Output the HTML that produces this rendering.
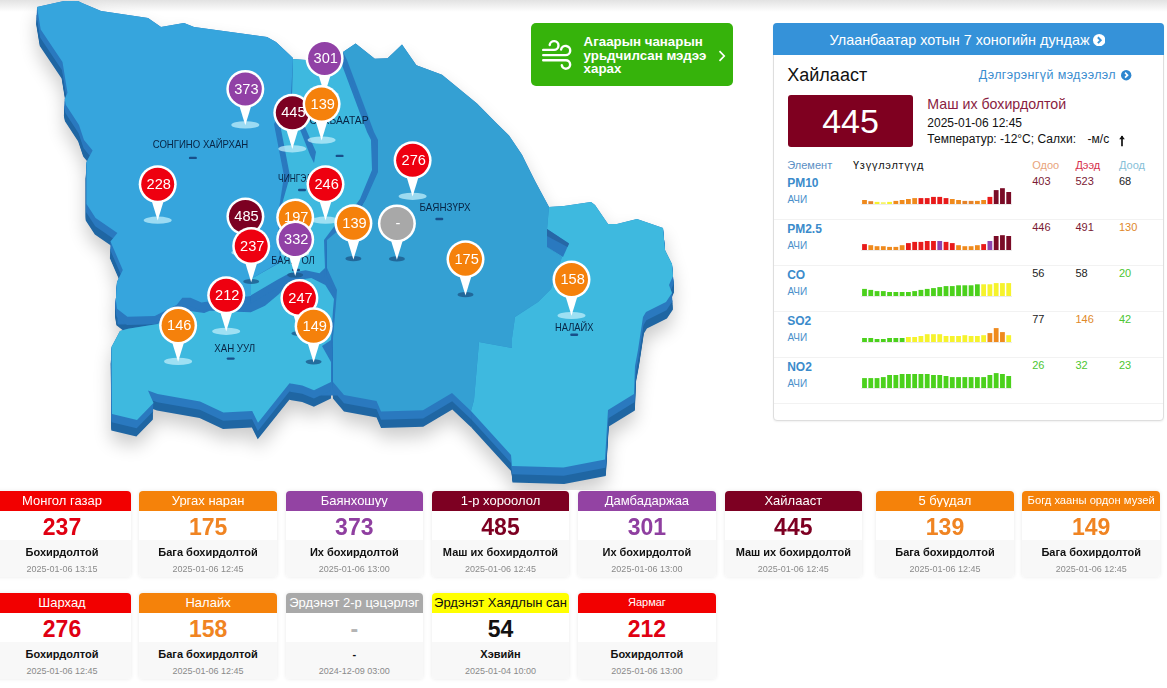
<!DOCTYPE html>
<html><head><meta charset="utf-8"><title>Air quality</title>
<style>
*{box-sizing:border-box;margin:0;padding:0}
html,body{width:1167px;height:688px;overflow:hidden;background:#fff;font-family:"Liberation Sans","DejaVu Sans",sans-serif;}
body{position:relative}
.t{position:absolute;line-height:1;white-space:nowrap}
.abs{position:absolute}
.topsh{position:absolute;left:0;top:0;width:1167px;height:12px;background:linear-gradient(#e2e2e2,rgba(255,255,255,0));}
.map{position:absolute;left:0;top:0}
.pt{font-family:"Liberation Sans","DejaVu Sans",sans-serif;font-size:14.6px;fill:#fff;text-anchor:middle}
.ml{font-family:"Liberation Sans","DejaVu Sans",sans-serif;font-size:10.3px;fill:#082444;text-anchor:middle}
.fc{position:absolute;left:531.3px;top:23.3px;width:201.6px;height:63px;background:#36b30b;border-radius:5px}
.panel{position:absolute;left:773px;top:23px;width:391px;height:398px;border:1px solid #dedede;border-radius:4px;background:#fff;box-shadow:0 1px 2px rgba(0,0,0,0.06)}
.ph{position:absolute;left:773px;top:23px;width:391px;height:32px;background:#3592d9;border-radius:4px 4px 0 0}
.big{position:absolute;left:788px;top:95px;width:125px;height:52px;background:#7f0020;border-radius:3px}
.sep{position:absolute;left:774px;width:389px;height:1px;background:#f2f2f2}
.card{position:absolute;width:137.6px;height:86px;background:#fff;border-radius:4px;box-shadow:0 0 4px rgba(0,0,0,0.09)}
.chd{height:19.5px;border-radius:4px 4px 0 0}
.cbt{position:absolute;left:0;top:49px;width:100%;height:37px;background:#f8f8f8;border-radius:0 0 4px 4px}
</style></head>
<body>
<div class="topsh"></div>
<svg class="map" width="700" height="490" viewBox="0 0 700 490">
<defs>
<filter id="sh" x="-15%" y="-15%" width="130%" height="140%"><feGaussianBlur stdDeviation="9"/></filter>
<clipPath id="clipL"><polygon points="270,64 293,62 306,63 340,61 347,57 400,57 400,480 200,480 200,64"/></clipPath>
</defs>
<g fill="#000" opacity="0.2" filter="url(#sh)" transform="translate(0,10)">
<polygon points="37,7 64,1 78,1 82,3 101,11 148,18 161,27 184,23 194,27 267,37 276,42 293,58 291,95 274,124 284,176 278,215 280,262 251,279 251,296 209.7,301.3 201.5,302.6 190.5,297.8 182.3,297.8 176.8,304.7 154.8,315.9 127.4,316.7 117.1,308.8 115.8,300 117,282 122.8,270 110.5,241.5 117.4,233 95.6,218 86.5,204 86.5,162 92.6,150.5 84,140 79,125 65.8,104.7 64.7,99 67.5,92.7 62.5,62 40.7,29.4" transform="translate(350,0.00) scale(1.0000,1) translate(-350,0)"/>
<polygon points="37,7 64,1 78,1 82,3 101,11 148,18 161,27 184,23 194,27 267,37 276,42 293,58 291,95 274,124 284,176 278,215 280,262 251,279 251,296 209.7,301.3 201.5,302.6 190.5,297.8 182.3,297.8 176.8,304.7 154.8,315.9 127.4,316.7 117.1,308.8 115.8,300 117,282 122.8,270 110.5,241.5 117.4,233 95.6,218 86.5,204 86.5,162 92.6,150.5 84,140 79,125 65.8,104.7 64.7,99 67.5,92.7 62.5,62 40.7,29.4" transform="translate(350,2.75) scale(1.0005,1) translate(-350,0)"/>
<polygon points="37,7 64,1 78,1 82,3 101,11 148,18 161,27 184,23 194,27 267,37 276,42 293,58 291,95 274,124 284,176 278,215 280,262 251,279 251,296 209.7,301.3 201.5,302.6 190.5,297.8 182.3,297.8 176.8,304.7 154.8,315.9 127.4,316.7 117.1,308.8 115.8,300 117,282 122.8,270 110.5,241.5 117.4,233 95.6,218 86.5,204 86.5,162 92.6,150.5 84,140 79,125 65.8,104.7 64.7,99 67.5,92.7 62.5,62 40.7,29.4" transform="translate(350,5.50) scale(1.0010,1) translate(-350,0)"/>
<polygon points="37,7 64,1 78,1 82,3 101,11 148,18 161,27 184,23 194,27 267,37 276,42 293,58 291,95 274,124 284,176 278,215 280,262 251,279 251,296 209.7,301.3 201.5,302.6 190.5,297.8 182.3,297.8 176.8,304.7 154.8,315.9 127.4,316.7 117.1,308.8 115.8,300 117,282 122.8,270 110.5,241.5 117.4,233 95.6,218 86.5,204 86.5,162 92.6,150.5 84,140 79,125 65.8,104.7 64.7,99 67.5,92.7 62.5,62 40.7,29.4" transform="translate(350,8.25) scale(1.0015,1) translate(-350,0)"/>
<polygon points="37,7 64,1 78,1 82,3 101,11 148,18 161,27 184,23 194,27 267,37 276,42 293,58 291,95 274,124 284,176 278,215 280,262 251,279 251,296 209.7,301.3 201.5,302.6 190.5,297.8 182.3,297.8 176.8,304.7 154.8,315.9 127.4,316.7 117.1,308.8 115.8,300 117,282 122.8,270 110.5,241.5 117.4,233 95.6,218 86.5,204 86.5,162 92.6,150.5 84,140 79,125 65.8,104.7 64.7,99 67.5,92.7 62.5,62 40.7,29.4" transform="translate(350,11.00) scale(1.0020,1) translate(-350,0)"/>
<polygon points="37,7 64,1 78,1 82,3 101,11 148,18 161,27 184,23 194,27 267,37 276,42 293,58 291,95 274,124 284,176 278,215 280,262 251,279 251,296 209.7,301.3 201.5,302.6 190.5,297.8 182.3,297.8 176.8,304.7 154.8,315.9 127.4,316.7 117.1,308.8 115.8,300 117,282 122.8,270 110.5,241.5 117.4,233 95.6,218 86.5,204 86.5,162 92.6,150.5 84,140 79,125 65.8,104.7 64.7,99 67.5,92.7 62.5,62 40.7,29.4" transform="translate(350,13.75) scale(1.0025,1) translate(-350,0)"/>
<polygon points="37,7 64,1 78,1 82,3 101,11 148,18 161,27 184,23 194,27 267,37 276,42 293,58 291,95 274,124 284,176 278,215 280,262 251,279 251,296 209.7,301.3 201.5,302.6 190.5,297.8 182.3,297.8 176.8,304.7 154.8,315.9 127.4,316.7 117.1,308.8 115.8,300 117,282 122.8,270 110.5,241.5 117.4,233 95.6,218 86.5,204 86.5,162 92.6,150.5 84,140 79,125 65.8,104.7 64.7,99 67.5,92.7 62.5,62 40.7,29.4" transform="translate(350,16.50) scale(1.0030,1) translate(-350,0)"/>
<polygon points="293,59 306,60 339,57 367,132 371,140 372,170 360,199 352,210 336,224 324,240 325,268 319.5,273.3 305.6,270.3 289.3,273.3 276.5,280.2 251,295.3 251,279 281,262 279,215 290,176 280,124 292,96" transform="translate(350,0.00) scale(1.0000,1) translate(-350,0)"/>
<polygon points="293,59 306,60 339,57 367,132 371,140 372,170 360,199 352,210 336,224 324,240 325,268 319.5,273.3 305.6,270.3 289.3,273.3 276.5,280.2 251,295.3 251,279 281,262 279,215 290,176 280,124 292,96" transform="translate(350,2.75) scale(1.0005,1) translate(-350,0)"/>
<polygon points="293,59 306,60 339,57 367,132 371,140 372,170 360,199 352,210 336,224 324,240 325,268 319.5,273.3 305.6,270.3 289.3,273.3 276.5,280.2 251,295.3 251,279 281,262 279,215 290,176 280,124 292,96" transform="translate(350,5.50) scale(1.0010,1) translate(-350,0)"/>
<polygon points="293,59 306,60 339,57 367,132 371,140 372,170 360,199 352,210 336,224 324,240 325,268 319.5,273.3 305.6,270.3 289.3,273.3 276.5,280.2 251,295.3 251,279 281,262 279,215 290,176 280,124 292,96" transform="translate(350,8.25) scale(1.0015,1) translate(-350,0)"/>
<polygon points="293,59 306,60 339,57 367,132 371,140 372,170 360,199 352,210 336,224 324,240 325,268 319.5,273.3 305.6,270.3 289.3,273.3 276.5,280.2 251,295.3 251,279 281,262 279,215 290,176 280,124 292,96" transform="translate(350,11.00) scale(1.0020,1) translate(-350,0)"/>
<polygon points="293,59 306,60 339,57 367,132 371,140 372,170 360,199 352,210 336,224 324,240 325,268 319.5,273.3 305.6,270.3 289.3,273.3 276.5,280.2 251,295.3 251,279 281,262 279,215 290,176 280,124 292,96" transform="translate(350,13.75) scale(1.0025,1) translate(-350,0)"/>
<polygon points="293,59 306,60 339,57 367,132 371,140 372,170 360,199 352,210 336,224 324,240 325,268 319.5,273.3 305.6,270.3 289.3,273.3 276.5,280.2 251,295.3 251,279 281,262 279,215 290,176 280,124 292,96" transform="translate(350,16.50) scale(1.0030,1) translate(-350,0)"/>
<polygon points="111.5,347 120,331 128,328.8 157.6,323.9 176.8,312.9 185,310.2 204.2,312.9 209.7,310.8 250.8,312.2 265,305.8 278.8,294.2 290.5,281 311.4,278 325.3,285 334,299 333,310 331,340 322,346 331,362 331,382 314,390.2 302.3,385.6 289.5,383.3 258,422.8 252.2,411.1 223.4,412.5 200,401.5 157.6,394 148,390.6 153.5,403 137,420 112,414" transform="translate(350,0.00) scale(1.0000,1) translate(-350,0)"/>
<polygon points="111.5,347 120,331 128,328.8 157.6,323.9 176.8,312.9 185,310.2 204.2,312.9 209.7,310.8 250.8,312.2 265,305.8 278.8,294.2 290.5,281 311.4,278 325.3,285 334,299 333,310 331,340 322,346 331,362 331,382 314,390.2 302.3,385.6 289.5,383.3 258,422.8 252.2,411.1 223.4,412.5 200,401.5 157.6,394 148,390.6 153.5,403 137,420 112,414" transform="translate(350,2.75) scale(1.0005,1) translate(-350,0)"/>
<polygon points="111.5,347 120,331 128,328.8 157.6,323.9 176.8,312.9 185,310.2 204.2,312.9 209.7,310.8 250.8,312.2 265,305.8 278.8,294.2 290.5,281 311.4,278 325.3,285 334,299 333,310 331,340 322,346 331,362 331,382 314,390.2 302.3,385.6 289.5,383.3 258,422.8 252.2,411.1 223.4,412.5 200,401.5 157.6,394 148,390.6 153.5,403 137,420 112,414" transform="translate(350,5.50) scale(1.0010,1) translate(-350,0)"/>
<polygon points="111.5,347 120,331 128,328.8 157.6,323.9 176.8,312.9 185,310.2 204.2,312.9 209.7,310.8 250.8,312.2 265,305.8 278.8,294.2 290.5,281 311.4,278 325.3,285 334,299 333,310 331,340 322,346 331,362 331,382 314,390.2 302.3,385.6 289.5,383.3 258,422.8 252.2,411.1 223.4,412.5 200,401.5 157.6,394 148,390.6 153.5,403 137,420 112,414" transform="translate(350,8.25) scale(1.0015,1) translate(-350,0)"/>
<polygon points="111.5,347 120,331 128,328.8 157.6,323.9 176.8,312.9 185,310.2 204.2,312.9 209.7,310.8 250.8,312.2 265,305.8 278.8,294.2 290.5,281 311.4,278 325.3,285 334,299 333,310 331,340 322,346 331,362 331,382 314,390.2 302.3,385.6 289.5,383.3 258,422.8 252.2,411.1 223.4,412.5 200,401.5 157.6,394 148,390.6 153.5,403 137,420 112,414" transform="translate(350,11.00) scale(1.0020,1) translate(-350,0)"/>
<polygon points="111.5,347 120,331 128,328.8 157.6,323.9 176.8,312.9 185,310.2 204.2,312.9 209.7,310.8 250.8,312.2 265,305.8 278.8,294.2 290.5,281 311.4,278 325.3,285 334,299 333,310 331,340 322,346 331,362 331,382 314,390.2 302.3,385.6 289.5,383.3 258,422.8 252.2,411.1 223.4,412.5 200,401.5 157.6,394 148,390.6 153.5,403 137,420 112,414" transform="translate(350,13.75) scale(1.0025,1) translate(-350,0)"/>
<polygon points="111.5,347 120,331 128,328.8 157.6,323.9 176.8,312.9 185,310.2 204.2,312.9 209.7,310.8 250.8,312.2 265,305.8 278.8,294.2 290.5,281 311.4,278 325.3,285 334,299 333,310 331,340 322,346 331,362 331,382 314,390.2 302.3,385.6 289.5,383.3 258,422.8 252.2,411.1 223.4,412.5 200,401.5 157.6,394 148,390.6 153.5,403 137,420 112,414" transform="translate(350,16.50) scale(1.0030,1) translate(-350,0)"/>
<polygon points="343,52 355.6,43.4 374.8,58.8 387.6,58.2 402,44.4 416.4,65.2 442,74.8 477,103.6 496,122.8 509,135.6 522,154.8 525,161 535,181 549,207 547,230 547,247 562,257 551,289 538,302 515,317 512,338 512,348 479,342 474,400 471,411 452,393 423,410.2 381,411.4 376.5,401 344,395 333,382 333,338 336,303 337,290 327,268 327,240 340,229 356,216 366,199 378,172 378,140 374,132 347,60" transform="translate(350,0.00) scale(1.0000,1) translate(-350,0)"/>
<polygon points="343,52 355.6,43.4 374.8,58.8 387.6,58.2 402,44.4 416.4,65.2 442,74.8 477,103.6 496,122.8 509,135.6 522,154.8 525,161 535,181 549,207 547,230 547,247 562,257 551,289 538,302 515,317 512,338 512,348 479,342 474,400 471,411 452,393 423,410.2 381,411.4 376.5,401 344,395 333,382 333,338 336,303 337,290 327,268 327,240 340,229 356,216 366,199 378,172 378,140 374,132 347,60" transform="translate(350,2.75) scale(1.0005,1) translate(-350,0)"/>
<polygon points="343,52 355.6,43.4 374.8,58.8 387.6,58.2 402,44.4 416.4,65.2 442,74.8 477,103.6 496,122.8 509,135.6 522,154.8 525,161 535,181 549,207 547,230 547,247 562,257 551,289 538,302 515,317 512,338 512,348 479,342 474,400 471,411 452,393 423,410.2 381,411.4 376.5,401 344,395 333,382 333,338 336,303 337,290 327,268 327,240 340,229 356,216 366,199 378,172 378,140 374,132 347,60" transform="translate(350,5.50) scale(1.0010,1) translate(-350,0)"/>
<polygon points="343,52 355.6,43.4 374.8,58.8 387.6,58.2 402,44.4 416.4,65.2 442,74.8 477,103.6 496,122.8 509,135.6 522,154.8 525,161 535,181 549,207 547,230 547,247 562,257 551,289 538,302 515,317 512,338 512,348 479,342 474,400 471,411 452,393 423,410.2 381,411.4 376.5,401 344,395 333,382 333,338 336,303 337,290 327,268 327,240 340,229 356,216 366,199 378,172 378,140 374,132 347,60" transform="translate(350,8.25) scale(1.0015,1) translate(-350,0)"/>
<polygon points="343,52 355.6,43.4 374.8,58.8 387.6,58.2 402,44.4 416.4,65.2 442,74.8 477,103.6 496,122.8 509,135.6 522,154.8 525,161 535,181 549,207 547,230 547,247 562,257 551,289 538,302 515,317 512,338 512,348 479,342 474,400 471,411 452,393 423,410.2 381,411.4 376.5,401 344,395 333,382 333,338 336,303 337,290 327,268 327,240 340,229 356,216 366,199 378,172 378,140 374,132 347,60" transform="translate(350,11.00) scale(1.0020,1) translate(-350,0)"/>
<polygon points="343,52 355.6,43.4 374.8,58.8 387.6,58.2 402,44.4 416.4,65.2 442,74.8 477,103.6 496,122.8 509,135.6 522,154.8 525,161 535,181 549,207 547,230 547,247 562,257 551,289 538,302 515,317 512,338 512,348 479,342 474,400 471,411 452,393 423,410.2 381,411.4 376.5,401 344,395 333,382 333,338 336,303 337,290 327,268 327,240 340,229 356,216 366,199 378,172 378,140 374,132 347,60" transform="translate(350,13.75) scale(1.0025,1) translate(-350,0)"/>
<polygon points="343,52 355.6,43.4 374.8,58.8 387.6,58.2 402,44.4 416.4,65.2 442,74.8 477,103.6 496,122.8 509,135.6 522,154.8 525,161 535,181 549,207 547,230 547,247 562,257 551,289 538,302 515,317 512,338 512,348 479,342 474,400 471,411 452,393 423,410.2 381,411.4 376.5,401 344,395 333,382 333,338 336,303 337,290 327,268 327,240 340,229 356,216 366,199 378,172 378,140 374,132 347,60" transform="translate(350,16.50) scale(1.0030,1) translate(-350,0)"/>
<polygon points="549,207 564,206 591,202 595,205 608,224 617,224 637,219 663,228 665,250 672,264 673,276 669,285 672,293 666,302 646,312 643,317 638,350 635,366 634,394 608,410 605,459.5 563.5,467.5 512,466 511,455 471,411 474,400 479,342 512,348 512,338 515,317 538,302 551,289 562,257 547,247 547,230" transform="translate(350,0.00) scale(1.0000,1) translate(-350,0)"/>
<polygon points="549,207 564,206 591,202 595,205 608,224 617,224 637,219 663,228 665,250 672,264 673,276 669,285 672,293 666,302 646,312 643,317 638,350 635,366 634,394 608,410 605,459.5 563.5,467.5 512,466 511,455 471,411 474,400 479,342 512,348 512,338 515,317 538,302 551,289 562,257 547,247 547,230" transform="translate(350,2.75) scale(1.0005,1) translate(-350,0)"/>
<polygon points="549,207 564,206 591,202 595,205 608,224 617,224 637,219 663,228 665,250 672,264 673,276 669,285 672,293 666,302 646,312 643,317 638,350 635,366 634,394 608,410 605,459.5 563.5,467.5 512,466 511,455 471,411 474,400 479,342 512,348 512,338 515,317 538,302 551,289 562,257 547,247 547,230" transform="translate(350,5.50) scale(1.0010,1) translate(-350,0)"/>
<polygon points="549,207 564,206 591,202 595,205 608,224 617,224 637,219 663,228 665,250 672,264 673,276 669,285 672,293 666,302 646,312 643,317 638,350 635,366 634,394 608,410 605,459.5 563.5,467.5 512,466 511,455 471,411 474,400 479,342 512,348 512,338 515,317 538,302 551,289 562,257 547,247 547,230" transform="translate(350,8.25) scale(1.0015,1) translate(-350,0)"/>
<polygon points="549,207 564,206 591,202 595,205 608,224 617,224 637,219 663,228 665,250 672,264 673,276 669,285 672,293 666,302 646,312 643,317 638,350 635,366 634,394 608,410 605,459.5 563.5,467.5 512,466 511,455 471,411 474,400 479,342 512,348 512,338 515,317 538,302 551,289 562,257 547,247 547,230" transform="translate(350,11.00) scale(1.0020,1) translate(-350,0)"/>
<polygon points="549,207 564,206 591,202 595,205 608,224 617,224 637,219 663,228 665,250 672,264 673,276 669,285 672,293 666,302 646,312 643,317 638,350 635,366 634,394 608,410 605,459.5 563.5,467.5 512,466 511,455 471,411 474,400 479,342 512,348 512,338 515,317 538,302 551,289 562,257 547,247 547,230" transform="translate(350,13.75) scale(1.0025,1) translate(-350,0)"/>
<polygon points="549,207 564,206 591,202 595,205 608,224 617,224 637,219 663,228 665,250 672,264 673,276 669,285 672,293 666,302 646,312 643,317 638,350 635,366 634,394 608,410 605,459.5 563.5,467.5 512,466 511,455 471,411 474,400 479,342 512,348 512,338 515,317 538,302 551,289 562,257 547,247 547,230" transform="translate(350,16.50) scale(1.0030,1) translate(-350,0)"/>
</g>
<g fill="#1f66a3">
<polygon points="37,7 64,1 78,1 82,3 101,11 148,18 161,27 184,23 194,27 267,37 276,42 293,58 291,95 274,124 284,176 278,215 280,262 251,279 251,296 209.7,301.3 201.5,302.6 190.5,297.8 182.3,297.8 176.8,304.7 154.8,315.9 127.4,316.7 117.1,308.8 115.8,300 117,282 122.8,270 110.5,241.5 117.4,233 95.6,218 86.5,204 86.5,162 92.6,150.5 84,140 79,125 65.8,104.7 64.7,99 67.5,92.7 62.5,62 40.7,29.4" transform="translate(350,8.25) scale(1.0015,1) translate(-350,0)"/>
<polygon points="37,7 64,1 78,1 82,3 101,11 148,18 161,27 184,23 194,27 267,37 276,42 293,58 291,95 274,124 284,176 278,215 280,262 251,279 251,296 209.7,301.3 201.5,302.6 190.5,297.8 182.3,297.8 176.8,304.7 154.8,315.9 127.4,316.7 117.1,308.8 115.8,300 117,282 122.8,270 110.5,241.5 117.4,233 95.6,218 86.5,204 86.5,162 92.6,150.5 84,140 79,125 65.8,104.7 64.7,99 67.5,92.7 62.5,62 40.7,29.4" transform="translate(350,9.28) scale(1.0017,1) translate(-350,0)"/>
<polygon points="37,7 64,1 78,1 82,3 101,11 148,18 161,27 184,23 194,27 267,37 276,42 293,58 291,95 274,124 284,176 278,215 280,262 251,279 251,296 209.7,301.3 201.5,302.6 190.5,297.8 182.3,297.8 176.8,304.7 154.8,315.9 127.4,316.7 117.1,308.8 115.8,300 117,282 122.8,270 110.5,241.5 117.4,233 95.6,218 86.5,204 86.5,162 92.6,150.5 84,140 79,125 65.8,104.7 64.7,99 67.5,92.7 62.5,62 40.7,29.4" transform="translate(350,10.31) scale(1.0019,1) translate(-350,0)"/>
<polygon points="37,7 64,1 78,1 82,3 101,11 148,18 161,27 184,23 194,27 267,37 276,42 293,58 291,95 274,124 284,176 278,215 280,262 251,279 251,296 209.7,301.3 201.5,302.6 190.5,297.8 182.3,297.8 176.8,304.7 154.8,315.9 127.4,316.7 117.1,308.8 115.8,300 117,282 122.8,270 110.5,241.5 117.4,233 95.6,218 86.5,204 86.5,162 92.6,150.5 84,140 79,125 65.8,104.7 64.7,99 67.5,92.7 62.5,62 40.7,29.4" transform="translate(350,11.34) scale(1.0021,1) translate(-350,0)"/>
<polygon points="37,7 64,1 78,1 82,3 101,11 148,18 161,27 184,23 194,27 267,37 276,42 293,58 291,95 274,124 284,176 278,215 280,262 251,279 251,296 209.7,301.3 201.5,302.6 190.5,297.8 182.3,297.8 176.8,304.7 154.8,315.9 127.4,316.7 117.1,308.8 115.8,300 117,282 122.8,270 110.5,241.5 117.4,233 95.6,218 86.5,204 86.5,162 92.6,150.5 84,140 79,125 65.8,104.7 64.7,99 67.5,92.7 62.5,62 40.7,29.4" transform="translate(350,12.38) scale(1.0023,1) translate(-350,0)"/>
<polygon points="37,7 64,1 78,1 82,3 101,11 148,18 161,27 184,23 194,27 267,37 276,42 293,58 291,95 274,124 284,176 278,215 280,262 251,279 251,296 209.7,301.3 201.5,302.6 190.5,297.8 182.3,297.8 176.8,304.7 154.8,315.9 127.4,316.7 117.1,308.8 115.8,300 117,282 122.8,270 110.5,241.5 117.4,233 95.6,218 86.5,204 86.5,162 92.6,150.5 84,140 79,125 65.8,104.7 64.7,99 67.5,92.7 62.5,62 40.7,29.4" transform="translate(350,13.41) scale(1.0024,1) translate(-350,0)"/>
<polygon points="37,7 64,1 78,1 82,3 101,11 148,18 161,27 184,23 194,27 267,37 276,42 293,58 291,95 274,124 284,176 278,215 280,262 251,279 251,296 209.7,301.3 201.5,302.6 190.5,297.8 182.3,297.8 176.8,304.7 154.8,315.9 127.4,316.7 117.1,308.8 115.8,300 117,282 122.8,270 110.5,241.5 117.4,233 95.6,218 86.5,204 86.5,162 92.6,150.5 84,140 79,125 65.8,104.7 64.7,99 67.5,92.7 62.5,62 40.7,29.4" transform="translate(350,14.44) scale(1.0026,1) translate(-350,0)"/>
<polygon points="37,7 64,1 78,1 82,3 101,11 148,18 161,27 184,23 194,27 267,37 276,42 293,58 291,95 274,124 284,176 278,215 280,262 251,279 251,296 209.7,301.3 201.5,302.6 190.5,297.8 182.3,297.8 176.8,304.7 154.8,315.9 127.4,316.7 117.1,308.8 115.8,300 117,282 122.8,270 110.5,241.5 117.4,233 95.6,218 86.5,204 86.5,162 92.6,150.5 84,140 79,125 65.8,104.7 64.7,99 67.5,92.7 62.5,62 40.7,29.4" transform="translate(350,15.47) scale(1.0028,1) translate(-350,0)"/>
<polygon points="37,7 64,1 78,1 82,3 101,11 148,18 161,27 184,23 194,27 267,37 276,42 293,58 291,95 274,124 284,176 278,215 280,262 251,279 251,296 209.7,301.3 201.5,302.6 190.5,297.8 182.3,297.8 176.8,304.7 154.8,315.9 127.4,316.7 117.1,308.8 115.8,300 117,282 122.8,270 110.5,241.5 117.4,233 95.6,218 86.5,204 86.5,162 92.6,150.5 84,140 79,125 65.8,104.7 64.7,99 67.5,92.7 62.5,62 40.7,29.4" transform="translate(350,16.50) scale(1.0030,1) translate(-350,0)"/>
<polygon points="293,59 306,60 339,57 367,132 371,140 372,170 360,199 352,210 336,224 324,240 325,268 319.5,273.3 305.6,270.3 289.3,273.3 276.5,280.2 251,295.3 251,279 281,262 279,215 290,176 280,124 292,96" transform="translate(350,8.25) scale(1.0015,1) translate(-350,0)"/>
<polygon points="293,59 306,60 339,57 367,132 371,140 372,170 360,199 352,210 336,224 324,240 325,268 319.5,273.3 305.6,270.3 289.3,273.3 276.5,280.2 251,295.3 251,279 281,262 279,215 290,176 280,124 292,96" transform="translate(350,9.28) scale(1.0017,1) translate(-350,0)"/>
<polygon points="293,59 306,60 339,57 367,132 371,140 372,170 360,199 352,210 336,224 324,240 325,268 319.5,273.3 305.6,270.3 289.3,273.3 276.5,280.2 251,295.3 251,279 281,262 279,215 290,176 280,124 292,96" transform="translate(350,10.31) scale(1.0019,1) translate(-350,0)"/>
<polygon points="293,59 306,60 339,57 367,132 371,140 372,170 360,199 352,210 336,224 324,240 325,268 319.5,273.3 305.6,270.3 289.3,273.3 276.5,280.2 251,295.3 251,279 281,262 279,215 290,176 280,124 292,96" transform="translate(350,11.34) scale(1.0021,1) translate(-350,0)"/>
<polygon points="293,59 306,60 339,57 367,132 371,140 372,170 360,199 352,210 336,224 324,240 325,268 319.5,273.3 305.6,270.3 289.3,273.3 276.5,280.2 251,295.3 251,279 281,262 279,215 290,176 280,124 292,96" transform="translate(350,12.38) scale(1.0023,1) translate(-350,0)"/>
<polygon points="293,59 306,60 339,57 367,132 371,140 372,170 360,199 352,210 336,224 324,240 325,268 319.5,273.3 305.6,270.3 289.3,273.3 276.5,280.2 251,295.3 251,279 281,262 279,215 290,176 280,124 292,96" transform="translate(350,13.41) scale(1.0024,1) translate(-350,0)"/>
<polygon points="293,59 306,60 339,57 367,132 371,140 372,170 360,199 352,210 336,224 324,240 325,268 319.5,273.3 305.6,270.3 289.3,273.3 276.5,280.2 251,295.3 251,279 281,262 279,215 290,176 280,124 292,96" transform="translate(350,14.44) scale(1.0026,1) translate(-350,0)"/>
<polygon points="293,59 306,60 339,57 367,132 371,140 372,170 360,199 352,210 336,224 324,240 325,268 319.5,273.3 305.6,270.3 289.3,273.3 276.5,280.2 251,295.3 251,279 281,262 279,215 290,176 280,124 292,96" transform="translate(350,15.47) scale(1.0028,1) translate(-350,0)"/>
<polygon points="293,59 306,60 339,57 367,132 371,140 372,170 360,199 352,210 336,224 324,240 325,268 319.5,273.3 305.6,270.3 289.3,273.3 276.5,280.2 251,295.3 251,279 281,262 279,215 290,176 280,124 292,96" transform="translate(350,16.50) scale(1.0030,1) translate(-350,0)"/>
<polygon points="111.5,347 120,331 128,328.8 157.6,323.9 176.8,312.9 185,310.2 204.2,312.9 209.7,310.8 250.8,312.2 265,305.8 278.8,294.2 290.5,281 311.4,278 325.3,285 334,299 333,310 331,340 322,346 331,362 331,382 314,390.2 302.3,385.6 289.5,383.3 258,422.8 252.2,411.1 223.4,412.5 200,401.5 157.6,394 148,390.6 153.5,403 137,420 112,414" transform="translate(350,8.25) scale(1.0015,1) translate(-350,0)"/>
<polygon points="111.5,347 120,331 128,328.8 157.6,323.9 176.8,312.9 185,310.2 204.2,312.9 209.7,310.8 250.8,312.2 265,305.8 278.8,294.2 290.5,281 311.4,278 325.3,285 334,299 333,310 331,340 322,346 331,362 331,382 314,390.2 302.3,385.6 289.5,383.3 258,422.8 252.2,411.1 223.4,412.5 200,401.5 157.6,394 148,390.6 153.5,403 137,420 112,414" transform="translate(350,9.28) scale(1.0017,1) translate(-350,0)"/>
<polygon points="111.5,347 120,331 128,328.8 157.6,323.9 176.8,312.9 185,310.2 204.2,312.9 209.7,310.8 250.8,312.2 265,305.8 278.8,294.2 290.5,281 311.4,278 325.3,285 334,299 333,310 331,340 322,346 331,362 331,382 314,390.2 302.3,385.6 289.5,383.3 258,422.8 252.2,411.1 223.4,412.5 200,401.5 157.6,394 148,390.6 153.5,403 137,420 112,414" transform="translate(350,10.31) scale(1.0019,1) translate(-350,0)"/>
<polygon points="111.5,347 120,331 128,328.8 157.6,323.9 176.8,312.9 185,310.2 204.2,312.9 209.7,310.8 250.8,312.2 265,305.8 278.8,294.2 290.5,281 311.4,278 325.3,285 334,299 333,310 331,340 322,346 331,362 331,382 314,390.2 302.3,385.6 289.5,383.3 258,422.8 252.2,411.1 223.4,412.5 200,401.5 157.6,394 148,390.6 153.5,403 137,420 112,414" transform="translate(350,11.34) scale(1.0021,1) translate(-350,0)"/>
<polygon points="111.5,347 120,331 128,328.8 157.6,323.9 176.8,312.9 185,310.2 204.2,312.9 209.7,310.8 250.8,312.2 265,305.8 278.8,294.2 290.5,281 311.4,278 325.3,285 334,299 333,310 331,340 322,346 331,362 331,382 314,390.2 302.3,385.6 289.5,383.3 258,422.8 252.2,411.1 223.4,412.5 200,401.5 157.6,394 148,390.6 153.5,403 137,420 112,414" transform="translate(350,12.38) scale(1.0023,1) translate(-350,0)"/>
<polygon points="111.5,347 120,331 128,328.8 157.6,323.9 176.8,312.9 185,310.2 204.2,312.9 209.7,310.8 250.8,312.2 265,305.8 278.8,294.2 290.5,281 311.4,278 325.3,285 334,299 333,310 331,340 322,346 331,362 331,382 314,390.2 302.3,385.6 289.5,383.3 258,422.8 252.2,411.1 223.4,412.5 200,401.5 157.6,394 148,390.6 153.5,403 137,420 112,414" transform="translate(350,13.41) scale(1.0024,1) translate(-350,0)"/>
<polygon points="111.5,347 120,331 128,328.8 157.6,323.9 176.8,312.9 185,310.2 204.2,312.9 209.7,310.8 250.8,312.2 265,305.8 278.8,294.2 290.5,281 311.4,278 325.3,285 334,299 333,310 331,340 322,346 331,362 331,382 314,390.2 302.3,385.6 289.5,383.3 258,422.8 252.2,411.1 223.4,412.5 200,401.5 157.6,394 148,390.6 153.5,403 137,420 112,414" transform="translate(350,14.44) scale(1.0026,1) translate(-350,0)"/>
<polygon points="111.5,347 120,331 128,328.8 157.6,323.9 176.8,312.9 185,310.2 204.2,312.9 209.7,310.8 250.8,312.2 265,305.8 278.8,294.2 290.5,281 311.4,278 325.3,285 334,299 333,310 331,340 322,346 331,362 331,382 314,390.2 302.3,385.6 289.5,383.3 258,422.8 252.2,411.1 223.4,412.5 200,401.5 157.6,394 148,390.6 153.5,403 137,420 112,414" transform="translate(350,15.47) scale(1.0028,1) translate(-350,0)"/>
<polygon points="111.5,347 120,331 128,328.8 157.6,323.9 176.8,312.9 185,310.2 204.2,312.9 209.7,310.8 250.8,312.2 265,305.8 278.8,294.2 290.5,281 311.4,278 325.3,285 334,299 333,310 331,340 322,346 331,362 331,382 314,390.2 302.3,385.6 289.5,383.3 258,422.8 252.2,411.1 223.4,412.5 200,401.5 157.6,394 148,390.6 153.5,403 137,420 112,414" transform="translate(350,16.50) scale(1.0030,1) translate(-350,0)"/>
<polygon points="343,52 355.6,43.4 374.8,58.8 387.6,58.2 402,44.4 416.4,65.2 442,74.8 477,103.6 496,122.8 509,135.6 522,154.8 525,161 535,181 549,207 547,230 547,247 562,257 551,289 538,302 515,317 512,338 512,348 479,342 474,400 471,411 452,393 423,410.2 381,411.4 376.5,401 344,395 333,382 333,338 336,303 337,290 327,268 327,240 340,229 356,216 366,199 378,172 378,140 374,132 347,60" transform="translate(350,8.25) scale(1.0015,1) translate(-350,0)"/>
<polygon points="343,52 355.6,43.4 374.8,58.8 387.6,58.2 402,44.4 416.4,65.2 442,74.8 477,103.6 496,122.8 509,135.6 522,154.8 525,161 535,181 549,207 547,230 547,247 562,257 551,289 538,302 515,317 512,338 512,348 479,342 474,400 471,411 452,393 423,410.2 381,411.4 376.5,401 344,395 333,382 333,338 336,303 337,290 327,268 327,240 340,229 356,216 366,199 378,172 378,140 374,132 347,60" transform="translate(350,9.28) scale(1.0017,1) translate(-350,0)"/>
<polygon points="343,52 355.6,43.4 374.8,58.8 387.6,58.2 402,44.4 416.4,65.2 442,74.8 477,103.6 496,122.8 509,135.6 522,154.8 525,161 535,181 549,207 547,230 547,247 562,257 551,289 538,302 515,317 512,338 512,348 479,342 474,400 471,411 452,393 423,410.2 381,411.4 376.5,401 344,395 333,382 333,338 336,303 337,290 327,268 327,240 340,229 356,216 366,199 378,172 378,140 374,132 347,60" transform="translate(350,10.31) scale(1.0019,1) translate(-350,0)"/>
<polygon points="343,52 355.6,43.4 374.8,58.8 387.6,58.2 402,44.4 416.4,65.2 442,74.8 477,103.6 496,122.8 509,135.6 522,154.8 525,161 535,181 549,207 547,230 547,247 562,257 551,289 538,302 515,317 512,338 512,348 479,342 474,400 471,411 452,393 423,410.2 381,411.4 376.5,401 344,395 333,382 333,338 336,303 337,290 327,268 327,240 340,229 356,216 366,199 378,172 378,140 374,132 347,60" transform="translate(350,11.34) scale(1.0021,1) translate(-350,0)"/>
<polygon points="343,52 355.6,43.4 374.8,58.8 387.6,58.2 402,44.4 416.4,65.2 442,74.8 477,103.6 496,122.8 509,135.6 522,154.8 525,161 535,181 549,207 547,230 547,247 562,257 551,289 538,302 515,317 512,338 512,348 479,342 474,400 471,411 452,393 423,410.2 381,411.4 376.5,401 344,395 333,382 333,338 336,303 337,290 327,268 327,240 340,229 356,216 366,199 378,172 378,140 374,132 347,60" transform="translate(350,12.38) scale(1.0023,1) translate(-350,0)"/>
<polygon points="343,52 355.6,43.4 374.8,58.8 387.6,58.2 402,44.4 416.4,65.2 442,74.8 477,103.6 496,122.8 509,135.6 522,154.8 525,161 535,181 549,207 547,230 547,247 562,257 551,289 538,302 515,317 512,338 512,348 479,342 474,400 471,411 452,393 423,410.2 381,411.4 376.5,401 344,395 333,382 333,338 336,303 337,290 327,268 327,240 340,229 356,216 366,199 378,172 378,140 374,132 347,60" transform="translate(350,13.41) scale(1.0024,1) translate(-350,0)"/>
<polygon points="343,52 355.6,43.4 374.8,58.8 387.6,58.2 402,44.4 416.4,65.2 442,74.8 477,103.6 496,122.8 509,135.6 522,154.8 525,161 535,181 549,207 547,230 547,247 562,257 551,289 538,302 515,317 512,338 512,348 479,342 474,400 471,411 452,393 423,410.2 381,411.4 376.5,401 344,395 333,382 333,338 336,303 337,290 327,268 327,240 340,229 356,216 366,199 378,172 378,140 374,132 347,60" transform="translate(350,14.44) scale(1.0026,1) translate(-350,0)"/>
<polygon points="343,52 355.6,43.4 374.8,58.8 387.6,58.2 402,44.4 416.4,65.2 442,74.8 477,103.6 496,122.8 509,135.6 522,154.8 525,161 535,181 549,207 547,230 547,247 562,257 551,289 538,302 515,317 512,338 512,348 479,342 474,400 471,411 452,393 423,410.2 381,411.4 376.5,401 344,395 333,382 333,338 336,303 337,290 327,268 327,240 340,229 356,216 366,199 378,172 378,140 374,132 347,60" transform="translate(350,15.47) scale(1.0028,1) translate(-350,0)"/>
<polygon points="343,52 355.6,43.4 374.8,58.8 387.6,58.2 402,44.4 416.4,65.2 442,74.8 477,103.6 496,122.8 509,135.6 522,154.8 525,161 535,181 549,207 547,230 547,247 562,257 551,289 538,302 515,317 512,338 512,348 479,342 474,400 471,411 452,393 423,410.2 381,411.4 376.5,401 344,395 333,382 333,338 336,303 337,290 327,268 327,240 340,229 356,216 366,199 378,172 378,140 374,132 347,60" transform="translate(350,16.50) scale(1.0030,1) translate(-350,0)"/>
<polygon points="549,207 564,206 591,202 595,205 608,224 617,224 637,219 663,228 665,250 672,264 673,276 669,285 672,293 666,302 646,312 643,317 638,350 635,366 634,394 608,410 605,459.5 563.5,467.5 512,466 511,455 471,411 474,400 479,342 512,348 512,338 515,317 538,302 551,289 562,257 547,247 547,230" transform="translate(350,8.25) scale(1.0015,1) translate(-350,0)"/>
<polygon points="549,207 564,206 591,202 595,205 608,224 617,224 637,219 663,228 665,250 672,264 673,276 669,285 672,293 666,302 646,312 643,317 638,350 635,366 634,394 608,410 605,459.5 563.5,467.5 512,466 511,455 471,411 474,400 479,342 512,348 512,338 515,317 538,302 551,289 562,257 547,247 547,230" transform="translate(350,9.28) scale(1.0017,1) translate(-350,0)"/>
<polygon points="549,207 564,206 591,202 595,205 608,224 617,224 637,219 663,228 665,250 672,264 673,276 669,285 672,293 666,302 646,312 643,317 638,350 635,366 634,394 608,410 605,459.5 563.5,467.5 512,466 511,455 471,411 474,400 479,342 512,348 512,338 515,317 538,302 551,289 562,257 547,247 547,230" transform="translate(350,10.31) scale(1.0019,1) translate(-350,0)"/>
<polygon points="549,207 564,206 591,202 595,205 608,224 617,224 637,219 663,228 665,250 672,264 673,276 669,285 672,293 666,302 646,312 643,317 638,350 635,366 634,394 608,410 605,459.5 563.5,467.5 512,466 511,455 471,411 474,400 479,342 512,348 512,338 515,317 538,302 551,289 562,257 547,247 547,230" transform="translate(350,11.34) scale(1.0021,1) translate(-350,0)"/>
<polygon points="549,207 564,206 591,202 595,205 608,224 617,224 637,219 663,228 665,250 672,264 673,276 669,285 672,293 666,302 646,312 643,317 638,350 635,366 634,394 608,410 605,459.5 563.5,467.5 512,466 511,455 471,411 474,400 479,342 512,348 512,338 515,317 538,302 551,289 562,257 547,247 547,230" transform="translate(350,12.38) scale(1.0023,1) translate(-350,0)"/>
<polygon points="549,207 564,206 591,202 595,205 608,224 617,224 637,219 663,228 665,250 672,264 673,276 669,285 672,293 666,302 646,312 643,317 638,350 635,366 634,394 608,410 605,459.5 563.5,467.5 512,466 511,455 471,411 474,400 479,342 512,348 512,338 515,317 538,302 551,289 562,257 547,247 547,230" transform="translate(350,13.41) scale(1.0024,1) translate(-350,0)"/>
<polygon points="549,207 564,206 591,202 595,205 608,224 617,224 637,219 663,228 665,250 672,264 673,276 669,285 672,293 666,302 646,312 643,317 638,350 635,366 634,394 608,410 605,459.5 563.5,467.5 512,466 511,455 471,411 474,400 479,342 512,348 512,338 515,317 538,302 551,289 562,257 547,247 547,230" transform="translate(350,14.44) scale(1.0026,1) translate(-350,0)"/>
<polygon points="549,207 564,206 591,202 595,205 608,224 617,224 637,219 663,228 665,250 672,264 673,276 669,285 672,293 666,302 646,312 643,317 638,350 635,366 634,394 608,410 605,459.5 563.5,467.5 512,466 511,455 471,411 474,400 479,342 512,348 512,338 515,317 538,302 551,289 562,257 547,247 547,230" transform="translate(350,15.47) scale(1.0028,1) translate(-350,0)"/>
<polygon points="549,207 564,206 591,202 595,205 608,224 617,224 637,219 663,228 665,250 672,264 673,276 669,285 672,293 666,302 646,312 643,317 638,350 635,366 634,394 608,410 605,459.5 563.5,467.5 512,466 511,455 471,411 474,400 479,342 512,348 512,338 515,317 538,302 551,289 562,257 547,247 547,230" transform="translate(350,16.50) scale(1.0030,1) translate(-350,0)"/>
</g>
<g fill="#2a79bf" stroke="#2a79bf">
<polygon points="293,59 306,60 339,57 367,132 371,140 372,170 360,199 352,210 336,224 324,240 325,268 319.5,273.3 305.6,270.3 289.3,273.3 276.5,280.2 251,295.3 251,279 281,262 279,215 290,176 280,124 292,96" stroke-width="9" stroke-linejoin="round" clip-path="url(#clipL)"/><polygon points="545,214 547,264 537,289 523,308 510,336 479,338 472,400 468,412 482,420 484,350 516,352 528,312 544,292 553,264 553,240 570,246 566,258 551,250 552,214"/><polygon points="272,70 290,62 345,60 381,140 381,175 342,235 341,300 337,395 320,395 250,322 118,324 118,300 250,290 270,120"/>
</g>
<g fill="#2a79bf">
<polygon points="37,7 64,1 78,1 82,3 101,11 148,18 161,27 184,23 194,27 267,37 276,42 293,58 291,95 274,124 284,176 278,215 280,262 251,279 251,296 209.7,301.3 201.5,302.6 190.5,297.8 182.3,297.8 176.8,304.7 154.8,315.9 127.4,316.7 117.1,308.8 115.8,300 117,282 122.8,270 110.5,241.5 117.4,233 95.6,218 86.5,204 86.5,162 92.6,150.5 84,140 79,125 65.8,104.7 64.7,99 67.5,92.7 62.5,62 40.7,29.4" transform="translate(350,0.00) scale(1.0000,1) translate(-350,0)"/>
<polygon points="37,7 64,1 78,1 82,3 101,11 148,18 161,27 184,23 194,27 267,37 276,42 293,58 291,95 274,124 284,176 278,215 280,262 251,279 251,296 209.7,301.3 201.5,302.6 190.5,297.8 182.3,297.8 176.8,304.7 154.8,315.9 127.4,316.7 117.1,308.8 115.8,300 117,282 122.8,270 110.5,241.5 117.4,233 95.6,218 86.5,204 86.5,162 92.6,150.5 84,140 79,125 65.8,104.7 64.7,99 67.5,92.7 62.5,62 40.7,29.4" transform="translate(350,1.03) scale(1.0002,1) translate(-350,0)"/>
<polygon points="37,7 64,1 78,1 82,3 101,11 148,18 161,27 184,23 194,27 267,37 276,42 293,58 291,95 274,124 284,176 278,215 280,262 251,279 251,296 209.7,301.3 201.5,302.6 190.5,297.8 182.3,297.8 176.8,304.7 154.8,315.9 127.4,316.7 117.1,308.8 115.8,300 117,282 122.8,270 110.5,241.5 117.4,233 95.6,218 86.5,204 86.5,162 92.6,150.5 84,140 79,125 65.8,104.7 64.7,99 67.5,92.7 62.5,62 40.7,29.4" transform="translate(350,2.06) scale(1.0004,1) translate(-350,0)"/>
<polygon points="37,7 64,1 78,1 82,3 101,11 148,18 161,27 184,23 194,27 267,37 276,42 293,58 291,95 274,124 284,176 278,215 280,262 251,279 251,296 209.7,301.3 201.5,302.6 190.5,297.8 182.3,297.8 176.8,304.7 154.8,315.9 127.4,316.7 117.1,308.8 115.8,300 117,282 122.8,270 110.5,241.5 117.4,233 95.6,218 86.5,204 86.5,162 92.6,150.5 84,140 79,125 65.8,104.7 64.7,99 67.5,92.7 62.5,62 40.7,29.4" transform="translate(350,3.09) scale(1.0006,1) translate(-350,0)"/>
<polygon points="37,7 64,1 78,1 82,3 101,11 148,18 161,27 184,23 194,27 267,37 276,42 293,58 291,95 274,124 284,176 278,215 280,262 251,279 251,296 209.7,301.3 201.5,302.6 190.5,297.8 182.3,297.8 176.8,304.7 154.8,315.9 127.4,316.7 117.1,308.8 115.8,300 117,282 122.8,270 110.5,241.5 117.4,233 95.6,218 86.5,204 86.5,162 92.6,150.5 84,140 79,125 65.8,104.7 64.7,99 67.5,92.7 62.5,62 40.7,29.4" transform="translate(350,4.12) scale(1.0008,1) translate(-350,0)"/>
<polygon points="37,7 64,1 78,1 82,3 101,11 148,18 161,27 184,23 194,27 267,37 276,42 293,58 291,95 274,124 284,176 278,215 280,262 251,279 251,296 209.7,301.3 201.5,302.6 190.5,297.8 182.3,297.8 176.8,304.7 154.8,315.9 127.4,316.7 117.1,308.8 115.8,300 117,282 122.8,270 110.5,241.5 117.4,233 95.6,218 86.5,204 86.5,162 92.6,150.5 84,140 79,125 65.8,104.7 64.7,99 67.5,92.7 62.5,62 40.7,29.4" transform="translate(350,5.16) scale(1.0009,1) translate(-350,0)"/>
<polygon points="37,7 64,1 78,1 82,3 101,11 148,18 161,27 184,23 194,27 267,37 276,42 293,58 291,95 274,124 284,176 278,215 280,262 251,279 251,296 209.7,301.3 201.5,302.6 190.5,297.8 182.3,297.8 176.8,304.7 154.8,315.9 127.4,316.7 117.1,308.8 115.8,300 117,282 122.8,270 110.5,241.5 117.4,233 95.6,218 86.5,204 86.5,162 92.6,150.5 84,140 79,125 65.8,104.7 64.7,99 67.5,92.7 62.5,62 40.7,29.4" transform="translate(350,6.19) scale(1.0011,1) translate(-350,0)"/>
<polygon points="37,7 64,1 78,1 82,3 101,11 148,18 161,27 184,23 194,27 267,37 276,42 293,58 291,95 274,124 284,176 278,215 280,262 251,279 251,296 209.7,301.3 201.5,302.6 190.5,297.8 182.3,297.8 176.8,304.7 154.8,315.9 127.4,316.7 117.1,308.8 115.8,300 117,282 122.8,270 110.5,241.5 117.4,233 95.6,218 86.5,204 86.5,162 92.6,150.5 84,140 79,125 65.8,104.7 64.7,99 67.5,92.7 62.5,62 40.7,29.4" transform="translate(350,7.22) scale(1.0013,1) translate(-350,0)"/>
<polygon points="37,7 64,1 78,1 82,3 101,11 148,18 161,27 184,23 194,27 267,37 276,42 293,58 291,95 274,124 284,176 278,215 280,262 251,279 251,296 209.7,301.3 201.5,302.6 190.5,297.8 182.3,297.8 176.8,304.7 154.8,315.9 127.4,316.7 117.1,308.8 115.8,300 117,282 122.8,270 110.5,241.5 117.4,233 95.6,218 86.5,204 86.5,162 92.6,150.5 84,140 79,125 65.8,104.7 64.7,99 67.5,92.7 62.5,62 40.7,29.4" transform="translate(350,8.25) scale(1.0015,1) translate(-350,0)"/>
<polygon points="293,59 306,60 339,57 367,132 371,140 372,170 360,199 352,210 336,224 324,240 325,268 319.5,273.3 305.6,270.3 289.3,273.3 276.5,280.2 251,295.3 251,279 281,262 279,215 290,176 280,124 292,96" transform="translate(350,0.00) scale(1.0000,1) translate(-350,0)"/>
<polygon points="293,59 306,60 339,57 367,132 371,140 372,170 360,199 352,210 336,224 324,240 325,268 319.5,273.3 305.6,270.3 289.3,273.3 276.5,280.2 251,295.3 251,279 281,262 279,215 290,176 280,124 292,96" transform="translate(350,1.03) scale(1.0002,1) translate(-350,0)"/>
<polygon points="293,59 306,60 339,57 367,132 371,140 372,170 360,199 352,210 336,224 324,240 325,268 319.5,273.3 305.6,270.3 289.3,273.3 276.5,280.2 251,295.3 251,279 281,262 279,215 290,176 280,124 292,96" transform="translate(350,2.06) scale(1.0004,1) translate(-350,0)"/>
<polygon points="293,59 306,60 339,57 367,132 371,140 372,170 360,199 352,210 336,224 324,240 325,268 319.5,273.3 305.6,270.3 289.3,273.3 276.5,280.2 251,295.3 251,279 281,262 279,215 290,176 280,124 292,96" transform="translate(350,3.09) scale(1.0006,1) translate(-350,0)"/>
<polygon points="293,59 306,60 339,57 367,132 371,140 372,170 360,199 352,210 336,224 324,240 325,268 319.5,273.3 305.6,270.3 289.3,273.3 276.5,280.2 251,295.3 251,279 281,262 279,215 290,176 280,124 292,96" transform="translate(350,4.12) scale(1.0008,1) translate(-350,0)"/>
<polygon points="293,59 306,60 339,57 367,132 371,140 372,170 360,199 352,210 336,224 324,240 325,268 319.5,273.3 305.6,270.3 289.3,273.3 276.5,280.2 251,295.3 251,279 281,262 279,215 290,176 280,124 292,96" transform="translate(350,5.16) scale(1.0009,1) translate(-350,0)"/>
<polygon points="293,59 306,60 339,57 367,132 371,140 372,170 360,199 352,210 336,224 324,240 325,268 319.5,273.3 305.6,270.3 289.3,273.3 276.5,280.2 251,295.3 251,279 281,262 279,215 290,176 280,124 292,96" transform="translate(350,6.19) scale(1.0011,1) translate(-350,0)"/>
<polygon points="293,59 306,60 339,57 367,132 371,140 372,170 360,199 352,210 336,224 324,240 325,268 319.5,273.3 305.6,270.3 289.3,273.3 276.5,280.2 251,295.3 251,279 281,262 279,215 290,176 280,124 292,96" transform="translate(350,7.22) scale(1.0013,1) translate(-350,0)"/>
<polygon points="293,59 306,60 339,57 367,132 371,140 372,170 360,199 352,210 336,224 324,240 325,268 319.5,273.3 305.6,270.3 289.3,273.3 276.5,280.2 251,295.3 251,279 281,262 279,215 290,176 280,124 292,96" transform="translate(350,8.25) scale(1.0015,1) translate(-350,0)"/>
<polygon points="111.5,347 120,331 128,328.8 157.6,323.9 176.8,312.9 185,310.2 204.2,312.9 209.7,310.8 250.8,312.2 265,305.8 278.8,294.2 290.5,281 311.4,278 325.3,285 334,299 333,310 331,340 322,346 331,362 331,382 314,390.2 302.3,385.6 289.5,383.3 258,422.8 252.2,411.1 223.4,412.5 200,401.5 157.6,394 148,390.6 153.5,403 137,420 112,414" transform="translate(350,0.00) scale(1.0000,1) translate(-350,0)"/>
<polygon points="111.5,347 120,331 128,328.8 157.6,323.9 176.8,312.9 185,310.2 204.2,312.9 209.7,310.8 250.8,312.2 265,305.8 278.8,294.2 290.5,281 311.4,278 325.3,285 334,299 333,310 331,340 322,346 331,362 331,382 314,390.2 302.3,385.6 289.5,383.3 258,422.8 252.2,411.1 223.4,412.5 200,401.5 157.6,394 148,390.6 153.5,403 137,420 112,414" transform="translate(350,1.03) scale(1.0002,1) translate(-350,0)"/>
<polygon points="111.5,347 120,331 128,328.8 157.6,323.9 176.8,312.9 185,310.2 204.2,312.9 209.7,310.8 250.8,312.2 265,305.8 278.8,294.2 290.5,281 311.4,278 325.3,285 334,299 333,310 331,340 322,346 331,362 331,382 314,390.2 302.3,385.6 289.5,383.3 258,422.8 252.2,411.1 223.4,412.5 200,401.5 157.6,394 148,390.6 153.5,403 137,420 112,414" transform="translate(350,2.06) scale(1.0004,1) translate(-350,0)"/>
<polygon points="111.5,347 120,331 128,328.8 157.6,323.9 176.8,312.9 185,310.2 204.2,312.9 209.7,310.8 250.8,312.2 265,305.8 278.8,294.2 290.5,281 311.4,278 325.3,285 334,299 333,310 331,340 322,346 331,362 331,382 314,390.2 302.3,385.6 289.5,383.3 258,422.8 252.2,411.1 223.4,412.5 200,401.5 157.6,394 148,390.6 153.5,403 137,420 112,414" transform="translate(350,3.09) scale(1.0006,1) translate(-350,0)"/>
<polygon points="111.5,347 120,331 128,328.8 157.6,323.9 176.8,312.9 185,310.2 204.2,312.9 209.7,310.8 250.8,312.2 265,305.8 278.8,294.2 290.5,281 311.4,278 325.3,285 334,299 333,310 331,340 322,346 331,362 331,382 314,390.2 302.3,385.6 289.5,383.3 258,422.8 252.2,411.1 223.4,412.5 200,401.5 157.6,394 148,390.6 153.5,403 137,420 112,414" transform="translate(350,4.12) scale(1.0008,1) translate(-350,0)"/>
<polygon points="111.5,347 120,331 128,328.8 157.6,323.9 176.8,312.9 185,310.2 204.2,312.9 209.7,310.8 250.8,312.2 265,305.8 278.8,294.2 290.5,281 311.4,278 325.3,285 334,299 333,310 331,340 322,346 331,362 331,382 314,390.2 302.3,385.6 289.5,383.3 258,422.8 252.2,411.1 223.4,412.5 200,401.5 157.6,394 148,390.6 153.5,403 137,420 112,414" transform="translate(350,5.16) scale(1.0009,1) translate(-350,0)"/>
<polygon points="111.5,347 120,331 128,328.8 157.6,323.9 176.8,312.9 185,310.2 204.2,312.9 209.7,310.8 250.8,312.2 265,305.8 278.8,294.2 290.5,281 311.4,278 325.3,285 334,299 333,310 331,340 322,346 331,362 331,382 314,390.2 302.3,385.6 289.5,383.3 258,422.8 252.2,411.1 223.4,412.5 200,401.5 157.6,394 148,390.6 153.5,403 137,420 112,414" transform="translate(350,6.19) scale(1.0011,1) translate(-350,0)"/>
<polygon points="111.5,347 120,331 128,328.8 157.6,323.9 176.8,312.9 185,310.2 204.2,312.9 209.7,310.8 250.8,312.2 265,305.8 278.8,294.2 290.5,281 311.4,278 325.3,285 334,299 333,310 331,340 322,346 331,362 331,382 314,390.2 302.3,385.6 289.5,383.3 258,422.8 252.2,411.1 223.4,412.5 200,401.5 157.6,394 148,390.6 153.5,403 137,420 112,414" transform="translate(350,7.22) scale(1.0013,1) translate(-350,0)"/>
<polygon points="111.5,347 120,331 128,328.8 157.6,323.9 176.8,312.9 185,310.2 204.2,312.9 209.7,310.8 250.8,312.2 265,305.8 278.8,294.2 290.5,281 311.4,278 325.3,285 334,299 333,310 331,340 322,346 331,362 331,382 314,390.2 302.3,385.6 289.5,383.3 258,422.8 252.2,411.1 223.4,412.5 200,401.5 157.6,394 148,390.6 153.5,403 137,420 112,414" transform="translate(350,8.25) scale(1.0015,1) translate(-350,0)"/>
<polygon points="343,52 355.6,43.4 374.8,58.8 387.6,58.2 402,44.4 416.4,65.2 442,74.8 477,103.6 496,122.8 509,135.6 522,154.8 525,161 535,181 549,207 547,230 547,247 562,257 551,289 538,302 515,317 512,338 512,348 479,342 474,400 471,411 452,393 423,410.2 381,411.4 376.5,401 344,395 333,382 333,338 336,303 337,290 327,268 327,240 340,229 356,216 366,199 378,172 378,140 374,132 347,60" transform="translate(350,0.00) scale(1.0000,1) translate(-350,0)"/>
<polygon points="343,52 355.6,43.4 374.8,58.8 387.6,58.2 402,44.4 416.4,65.2 442,74.8 477,103.6 496,122.8 509,135.6 522,154.8 525,161 535,181 549,207 547,230 547,247 562,257 551,289 538,302 515,317 512,338 512,348 479,342 474,400 471,411 452,393 423,410.2 381,411.4 376.5,401 344,395 333,382 333,338 336,303 337,290 327,268 327,240 340,229 356,216 366,199 378,172 378,140 374,132 347,60" transform="translate(350,1.03) scale(1.0002,1) translate(-350,0)"/>
<polygon points="343,52 355.6,43.4 374.8,58.8 387.6,58.2 402,44.4 416.4,65.2 442,74.8 477,103.6 496,122.8 509,135.6 522,154.8 525,161 535,181 549,207 547,230 547,247 562,257 551,289 538,302 515,317 512,338 512,348 479,342 474,400 471,411 452,393 423,410.2 381,411.4 376.5,401 344,395 333,382 333,338 336,303 337,290 327,268 327,240 340,229 356,216 366,199 378,172 378,140 374,132 347,60" transform="translate(350,2.06) scale(1.0004,1) translate(-350,0)"/>
<polygon points="343,52 355.6,43.4 374.8,58.8 387.6,58.2 402,44.4 416.4,65.2 442,74.8 477,103.6 496,122.8 509,135.6 522,154.8 525,161 535,181 549,207 547,230 547,247 562,257 551,289 538,302 515,317 512,338 512,348 479,342 474,400 471,411 452,393 423,410.2 381,411.4 376.5,401 344,395 333,382 333,338 336,303 337,290 327,268 327,240 340,229 356,216 366,199 378,172 378,140 374,132 347,60" transform="translate(350,3.09) scale(1.0006,1) translate(-350,0)"/>
<polygon points="343,52 355.6,43.4 374.8,58.8 387.6,58.2 402,44.4 416.4,65.2 442,74.8 477,103.6 496,122.8 509,135.6 522,154.8 525,161 535,181 549,207 547,230 547,247 562,257 551,289 538,302 515,317 512,338 512,348 479,342 474,400 471,411 452,393 423,410.2 381,411.4 376.5,401 344,395 333,382 333,338 336,303 337,290 327,268 327,240 340,229 356,216 366,199 378,172 378,140 374,132 347,60" transform="translate(350,4.12) scale(1.0008,1) translate(-350,0)"/>
<polygon points="343,52 355.6,43.4 374.8,58.8 387.6,58.2 402,44.4 416.4,65.2 442,74.8 477,103.6 496,122.8 509,135.6 522,154.8 525,161 535,181 549,207 547,230 547,247 562,257 551,289 538,302 515,317 512,338 512,348 479,342 474,400 471,411 452,393 423,410.2 381,411.4 376.5,401 344,395 333,382 333,338 336,303 337,290 327,268 327,240 340,229 356,216 366,199 378,172 378,140 374,132 347,60" transform="translate(350,5.16) scale(1.0009,1) translate(-350,0)"/>
<polygon points="343,52 355.6,43.4 374.8,58.8 387.6,58.2 402,44.4 416.4,65.2 442,74.8 477,103.6 496,122.8 509,135.6 522,154.8 525,161 535,181 549,207 547,230 547,247 562,257 551,289 538,302 515,317 512,338 512,348 479,342 474,400 471,411 452,393 423,410.2 381,411.4 376.5,401 344,395 333,382 333,338 336,303 337,290 327,268 327,240 340,229 356,216 366,199 378,172 378,140 374,132 347,60" transform="translate(350,6.19) scale(1.0011,1) translate(-350,0)"/>
<polygon points="343,52 355.6,43.4 374.8,58.8 387.6,58.2 402,44.4 416.4,65.2 442,74.8 477,103.6 496,122.8 509,135.6 522,154.8 525,161 535,181 549,207 547,230 547,247 562,257 551,289 538,302 515,317 512,338 512,348 479,342 474,400 471,411 452,393 423,410.2 381,411.4 376.5,401 344,395 333,382 333,338 336,303 337,290 327,268 327,240 340,229 356,216 366,199 378,172 378,140 374,132 347,60" transform="translate(350,7.22) scale(1.0013,1) translate(-350,0)"/>
<polygon points="343,52 355.6,43.4 374.8,58.8 387.6,58.2 402,44.4 416.4,65.2 442,74.8 477,103.6 496,122.8 509,135.6 522,154.8 525,161 535,181 549,207 547,230 547,247 562,257 551,289 538,302 515,317 512,338 512,348 479,342 474,400 471,411 452,393 423,410.2 381,411.4 376.5,401 344,395 333,382 333,338 336,303 337,290 327,268 327,240 340,229 356,216 366,199 378,172 378,140 374,132 347,60" transform="translate(350,8.25) scale(1.0015,1) translate(-350,0)"/>
<polygon points="549,207 564,206 591,202 595,205 608,224 617,224 637,219 663,228 665,250 672,264 673,276 669,285 672,293 666,302 646,312 643,317 638,350 635,366 634,394 608,410 605,459.5 563.5,467.5 512,466 511,455 471,411 474,400 479,342 512,348 512,338 515,317 538,302 551,289 562,257 547,247 547,230" transform="translate(350,0.00) scale(1.0000,1) translate(-350,0)"/>
<polygon points="549,207 564,206 591,202 595,205 608,224 617,224 637,219 663,228 665,250 672,264 673,276 669,285 672,293 666,302 646,312 643,317 638,350 635,366 634,394 608,410 605,459.5 563.5,467.5 512,466 511,455 471,411 474,400 479,342 512,348 512,338 515,317 538,302 551,289 562,257 547,247 547,230" transform="translate(350,1.03) scale(1.0002,1) translate(-350,0)"/>
<polygon points="549,207 564,206 591,202 595,205 608,224 617,224 637,219 663,228 665,250 672,264 673,276 669,285 672,293 666,302 646,312 643,317 638,350 635,366 634,394 608,410 605,459.5 563.5,467.5 512,466 511,455 471,411 474,400 479,342 512,348 512,338 515,317 538,302 551,289 562,257 547,247 547,230" transform="translate(350,2.06) scale(1.0004,1) translate(-350,0)"/>
<polygon points="549,207 564,206 591,202 595,205 608,224 617,224 637,219 663,228 665,250 672,264 673,276 669,285 672,293 666,302 646,312 643,317 638,350 635,366 634,394 608,410 605,459.5 563.5,467.5 512,466 511,455 471,411 474,400 479,342 512,348 512,338 515,317 538,302 551,289 562,257 547,247 547,230" transform="translate(350,3.09) scale(1.0006,1) translate(-350,0)"/>
<polygon points="549,207 564,206 591,202 595,205 608,224 617,224 637,219 663,228 665,250 672,264 673,276 669,285 672,293 666,302 646,312 643,317 638,350 635,366 634,394 608,410 605,459.5 563.5,467.5 512,466 511,455 471,411 474,400 479,342 512,348 512,338 515,317 538,302 551,289 562,257 547,247 547,230" transform="translate(350,4.12) scale(1.0008,1) translate(-350,0)"/>
<polygon points="549,207 564,206 591,202 595,205 608,224 617,224 637,219 663,228 665,250 672,264 673,276 669,285 672,293 666,302 646,312 643,317 638,350 635,366 634,394 608,410 605,459.5 563.5,467.5 512,466 511,455 471,411 474,400 479,342 512,348 512,338 515,317 538,302 551,289 562,257 547,247 547,230" transform="translate(350,5.16) scale(1.0009,1) translate(-350,0)"/>
<polygon points="549,207 564,206 591,202 595,205 608,224 617,224 637,219 663,228 665,250 672,264 673,276 669,285 672,293 666,302 646,312 643,317 638,350 635,366 634,394 608,410 605,459.5 563.5,467.5 512,466 511,455 471,411 474,400 479,342 512,348 512,338 515,317 538,302 551,289 562,257 547,247 547,230" transform="translate(350,6.19) scale(1.0011,1) translate(-350,0)"/>
<polygon points="549,207 564,206 591,202 595,205 608,224 617,224 637,219 663,228 665,250 672,264 673,276 669,285 672,293 666,302 646,312 643,317 638,350 635,366 634,394 608,410 605,459.5 563.5,467.5 512,466 511,455 471,411 474,400 479,342 512,348 512,338 515,317 538,302 551,289 562,257 547,247 547,230" transform="translate(350,7.22) scale(1.0013,1) translate(-350,0)"/>
<polygon points="549,207 564,206 591,202 595,205 608,224 617,224 637,219 663,228 665,250 672,264 673,276 669,285 672,293 666,302 646,312 643,317 638,350 635,366 634,394 608,410 605,459.5 563.5,467.5 512,466 511,455 471,411 474,400 479,342 512,348 512,338 515,317 538,302 551,289 562,257 547,247 547,230" transform="translate(350,8.25) scale(1.0015,1) translate(-350,0)"/>
</g>
<polygon points="37,7 64,1 78,1 82,3 101,11 148,18 161,27 184,23 194,27 267,37 276,42 293,58 291,95 274,124 284,176 278,215 280,262 251,279 251,296 209.7,301.3 201.5,302.6 190.5,297.8 182.3,297.8 176.8,304.7 154.8,315.9 127.4,316.7 117.1,308.8 115.8,300 117,282 122.8,270 110.5,241.5 117.4,233 95.6,218 86.5,204 86.5,162 92.6,150.5 84,140 79,125 65.8,104.7 64.7,99 67.5,92.7 62.5,62 40.7,29.4" fill="#36a5dd"/>
<polygon points="293,59 306,60 339,57 367,132 371,140 372,170 360,199 352,210 336,224 324,240 325,268 319.5,273.3 305.6,270.3 289.3,273.3 276.5,280.2 251,295.3 251,279 281,262 279,215 290,176 280,124 292,96" fill="#3eb9df"/>
<polygon points="111.5,347 120,331 128,328.8 157.6,323.9 176.8,312.9 185,310.2 204.2,312.9 209.7,310.8 250.8,312.2 265,305.8 278.8,294.2 290.5,281 311.4,278 325.3,285 334,299 333,310 331,340 322,346 331,362 331,382 314,390.2 302.3,385.6 289.5,383.3 258,422.8 252.2,411.1 223.4,412.5 200,401.5 157.6,394 148,390.6 153.5,403 137,420 112,414" fill="#3eb9df"/>
<polygon points="343,52 355.6,43.4 374.8,58.8 387.6,58.2 402,44.4 416.4,65.2 442,74.8 477,103.6 496,122.8 509,135.6 522,154.8 525,161 535,181 549,207 547,230 547,247 562,257 551,289 538,302 515,317 512,338 512,348 479,342 474,400 471,411 452,393 423,410.2 381,411.4 376.5,401 344,395 333,382 333,338 336,303 337,290 327,268 327,240 340,229 356,216 366,199 378,172 378,140 374,132 347,60" fill="#34a0d3"/>
<polygon points="549,207 564,206 591,202 595,205 608,224 617,224 637,219 663,228 665,250 672,264 673,276 669,285 672,293 666,302 646,312 643,317 638,350 635,366 634,394 608,410 605,459.5 563.5,467.5 512,466 511,455 471,411 474,400 479,342 512,348 512,338 515,317 538,302 551,289 562,257 547,247 547,230" fill="#3eb9df"/>
<polygon points="299,127 305,127 316,152 314,163 310,155" fill="#2a79bf"/>
<polygon points="547,229 569,243.5 563,257 547,247" fill="#2a79bf"/><polygon points="547,229 569,243.5 567.5,247 547,236" fill="#2667a6"/>
<text x="200.5" y="147.9" class="ml" textLength="95.6" lengthAdjust="spacingAndGlyphs">СОНГИНО ХАЙРХАН</text>
<rect x="188.9" y="156.70000000000002" width="8" height="2.4" rx="1.2" fill="#184f8a"/>
<text x="339" y="123.8" class="ml">СҮХБААТАР</text>
<rect x="335.6" y="154.70000000000002" width="8" height="2.4" rx="1.2" fill="#184f8a"/>
<text x="303.5" y="182.3" class="ml" textLength="51" lengthAdjust="spacingAndGlyphs">ЧИНГЭЛТЭЙ</text>
<rect x="298" y="188.8" width="8" height="2.4" rx="1.2" fill="#184f8a"/>
<text x="445.1" y="211" class="ml" textLength="51.2" lengthAdjust="spacingAndGlyphs">БАЯНЗҮРХ</text>
<rect x="435.3" y="217.8" width="8" height="2.4" rx="1.2" fill="#184f8a"/>
<text x="293" y="264.2" class="ml" textLength="43.5" lengthAdjust="spacingAndGlyphs">БАЯНГОЛ</text>
<rect x="292" y="268.8" width="8" height="2.4" rx="1.2" fill="#184f8a"/>
<text x="234.7" y="352" class="ml" textLength="41" lengthAdjust="spacingAndGlyphs">ХАН УУЛ</text>
<rect x="226.7" y="357.40000000000003" width="8" height="2.4" rx="1.2" fill="#184f8a"/>
<text x="574.2" y="330.6" class="ml" textLength="38.4" lengthAdjust="spacingAndGlyphs">НАЛАЙХ</text>
<rect x="570.2" y="333.5" width="8" height="2.4" rx="1.2" fill="#184f8a"/>
<ellipse cx="324.6" cy="94.4" rx="14" ry="3.6" fill="#bfeefa" opacity="0.75"/>
<path d="M318.1,73.4 L331.1,73.4 L324.6,94.7 Z" fill="#fff"/>
<circle cx="324.6" cy="58.4" r="19" fill="#fff"/>
<circle cx="324.6" cy="58.4" r="16.5" fill="#9141a6"/>
<text x="325.7" y="63.0" class="pt">301</text>
<ellipse cx="245.3" cy="124.9" rx="14" ry="3.6" fill="#bfeefa" opacity="0.75"/>
<path d="M238.8,103.9 L251.8,103.9 L245.3,125.2 Z" fill="#fff"/>
<circle cx="245.3" cy="88.9" r="19" fill="#fff"/>
<circle cx="245.3" cy="88.9" r="16.5" fill="#9141a6"/>
<text x="246.4" y="93.5" class="pt">373</text>
<ellipse cx="292.3" cy="148.8" rx="14" ry="3.6" fill="#bfeefa" opacity="0.75"/>
<path d="M285.8,127.8 L298.8,127.8 L292.3,149.1 Z" fill="#fff"/>
<circle cx="292.3" cy="112.8" r="19" fill="#fff"/>
<circle cx="292.3" cy="112.8" r="16.5" fill="#7c0022"/>
<text x="293.4" y="117.4" class="pt">445</text>
<ellipse cx="321.6" cy="140.1" rx="14" ry="3.6" fill="#bfeefa" opacity="0.75"/>
<path d="M315.1,119.1 L328.1,119.1 L321.6,140.4 Z" fill="#fff"/>
<circle cx="321.6" cy="104.1" r="19" fill="#fff"/>
<circle cx="321.6" cy="104.1" r="16.5" fill="#f5810b"/>
<text x="322.7" y="108.7" class="pt">139</text>
<ellipse cx="157.7" cy="220.2" rx="14" ry="3.6" fill="#bfeefa" opacity="0.75"/>
<path d="M151.2,199.2 L164.2,199.2 L157.7,220.5 Z" fill="#fff"/>
<circle cx="157.7" cy="184.2" r="19" fill="#fff"/>
<circle cx="157.7" cy="184.2" r="16.5" fill="#ee0010"/>
<text x="158.8" y="188.8" class="pt">228</text>
<ellipse cx="412.6" cy="196.3" rx="14" ry="3.6" fill="#bfeefa" opacity="0.75"/>
<path d="M406.1,175.3 L419.1,175.3 L412.6,196.6 Z" fill="#fff"/>
<circle cx="412.6" cy="160.3" r="19" fill="#fff"/>
<circle cx="412.6" cy="160.3" r="16.5" fill="#ee0010"/>
<text x="413.7" y="164.9" class="pt">276</text>
<ellipse cx="325.5" cy="220.2" rx="14" ry="3.6" fill="#bfeefa" opacity="0.75"/>
<path d="M319.0,199.2 L332.0,199.2 L325.5,220.5 Z" fill="#fff"/>
<circle cx="325.5" cy="184.2" r="19" fill="#fff"/>
<circle cx="325.5" cy="184.2" r="16.5" fill="#ee0010"/>
<text x="326.6" y="188.8" class="pt">246</text>
<ellipse cx="245.4" cy="252.5" rx="14" ry="3.6" fill="#bfeefa" opacity="0.75"/>
<path d="M238.9,231.5 L251.9,231.5 L245.4,252.8 Z" fill="#fff"/>
<circle cx="245.4" cy="216.5" r="19" fill="#fff"/>
<circle cx="245.4" cy="216.5" r="16.5" fill="#7c0022"/>
<text x="246.5" y="221.1" class="pt">485</text>
<ellipse cx="295.2" cy="253.5" rx="14" ry="3.6" fill="#bfeefa" opacity="0.75"/>
<path d="M288.7,232.5 L301.7,232.5 L295.2,253.8 Z" fill="#fff"/>
<circle cx="295.2" cy="217.5" r="19" fill="#fff"/>
<circle cx="295.2" cy="217.5" r="16.5" fill="#f5810b"/>
<text x="296.3" y="222.1" class="pt">197</text>
<ellipse cx="353.4" cy="258.7" rx="8" ry="2.6" fill="#1d5a8c" opacity="0.8"/>
<path d="M346.9,238.2 L359.9,238.2 L353.4,259.5 Z" fill="#fff"/>
<circle cx="353.4" cy="223.2" r="19" fill="#fff"/>
<circle cx="353.4" cy="223.2" r="16.5" fill="#f5810b"/>
<text x="354.5" y="227.8" class="pt">139</text>
<ellipse cx="396.9" cy="258.9" rx="8" ry="2.6" fill="#1d5a8c" opacity="0.8"/>
<path d="M390.4,238.4 L403.4,238.4 L396.9,259.7 Z" fill="#fff"/>
<circle cx="396.9" cy="223.4" r="19" fill="#fff"/>
<circle cx="396.9" cy="223.4" r="16.5" fill="#a8a8a8"/>
<text x="398.0" y="228.0" class="pt">-</text>
<ellipse cx="251.2" cy="281.5" rx="8" ry="2.6" fill="#1d5a8c" opacity="0.8"/>
<path d="M244.7,261.0 L257.7,261.0 L251.2,282.3 Z" fill="#fff"/>
<circle cx="251.2" cy="246.0" r="19" fill="#fff"/>
<circle cx="251.2" cy="246.0" r="16.5" fill="#ee0010"/>
<text x="252.3" y="250.6" class="pt">237</text>
<ellipse cx="295.2" cy="275.1" rx="8" ry="2.6" fill="#1d5a8c" opacity="0.8"/>
<path d="M288.7,254.6 L301.7,254.6 L295.2,275.9 Z" fill="#fff"/>
<circle cx="295.2" cy="239.6" r="19" fill="#fff"/>
<circle cx="295.2" cy="239.6" r="16.5" fill="#9141a6"/>
<text x="296.3" y="244.2" class="pt">332</text>
<ellipse cx="465.5" cy="294.7" rx="8" ry="2.6" fill="#1d5a8c" opacity="0.8"/>
<path d="M459.0,274.2 L472.0,274.2 L465.5,295.5 Z" fill="#fff"/>
<circle cx="465.5" cy="259.2" r="19" fill="#fff"/>
<circle cx="465.5" cy="259.2" r="16.5" fill="#f5810b"/>
<text x="466.6" y="263.8" class="pt">175</text>
<ellipse cx="571.5" cy="315.5" rx="14" ry="3.6" fill="#bfeefa" opacity="0.75"/>
<path d="M565.0,294.5 L578.0,294.5 L571.5,315.8 Z" fill="#fff"/>
<circle cx="571.5" cy="279.5" r="19" fill="#fff"/>
<circle cx="571.5" cy="279.5" r="16.5" fill="#f5810b"/>
<text x="572.6" y="284.1" class="pt">158</text>
<ellipse cx="226.2" cy="331.3" rx="14" ry="3.6" fill="#bfeefa" opacity="0.75"/>
<path d="M219.7,310.3 L232.7,310.3 L226.2,331.6 Z" fill="#fff"/>
<circle cx="226.2" cy="295.3" r="19" fill="#fff"/>
<circle cx="226.2" cy="295.3" r="16.5" fill="#ee0010"/>
<text x="227.3" y="299.9" class="pt">212</text>
<ellipse cx="299.4" cy="333.5" rx="8" ry="2.6" fill="#1d5a8c" opacity="0.8"/>
<path d="M292.9,313.0 L305.9,313.0 L299.4,334.3 Z" fill="#fff"/>
<circle cx="299.4" cy="298.0" r="19" fill="#fff"/>
<circle cx="299.4" cy="298.0" r="16.5" fill="#ee0010"/>
<text x="300.5" y="302.6" class="pt">247</text>
<ellipse cx="178.1" cy="361.4" rx="14" ry="3.6" fill="#bfeefa" opacity="0.75"/>
<path d="M171.6,340.4 L184.6,340.4 L178.1,361.7 Z" fill="#fff"/>
<circle cx="178.1" cy="325.4" r="19" fill="#fff"/>
<circle cx="178.1" cy="325.4" r="16.5" fill="#f5810b"/>
<text x="179.2" y="330.0" class="pt">146</text>
<ellipse cx="313.6" cy="361.8" rx="8" ry="2.6" fill="#1d5a8c" opacity="0.8"/>
<path d="M307.1,341.3 L320.1,341.3 L313.6,362.6 Z" fill="#fff"/>
<circle cx="313.6" cy="326.3" r="19" fill="#fff"/>
<circle cx="313.6" cy="326.3" r="16.5" fill="#f5810b"/>
<text x="314.7" y="330.9" class="pt">149</text>
</svg>
<div class="fc"></div>
<svg class="abs" style="left:536px;top:34px" width="42" height="42" viewBox="0 0 42 42" fill="none" stroke="#fff" stroke-width="2.4" stroke-linecap="round">
<path d="M7.2 15.9 H18 A4.4 4.4 0 1 0 13.7 11"/>
<path d="M7.2 21.1 H29.6 A4.6 4.6 0 1 0 25.1 15.6"/>
<path d="M7.2 26.3 H29.9 A4.2 4.2 0 1 1 25.8 31.2"/>
</svg>
<div class="t" style="left:583.6px;top:34.84px;font-size:13.3px;color:#fff;font-weight:bold;">Агаарын чанарын</div>
<div class="t" style="left:583.6px;top:48.54px;font-size:13.3px;color:#fff;font-weight:bold;">урьдчилсан мэдээ</div>
<div class="t" style="left:583.6px;top:62.34px;font-size:13.3px;color:#fff;font-weight:bold;">харах</div>
<svg class="abs" style="left:718px;top:50px" width="8" height="12" viewBox="0 0 8 12"><path d="M1.5 1.2 L6.2 6 L1.5 10.8" stroke="#fff" stroke-width="1.7" fill="none"/></svg>
<div class="panel"></div>
<div class="ph"></div>
<div class="t" style="left:829.6px;top:32.81px;font-size:14.4px;color:#fff;font-weight:normal;">Улаанбаатар хотын 7 хоногийн дундаж</div>
<svg class="abs" style="left:1093px;top:33.5px" width="12.4" height="12.4" viewBox="0 0 12 12"><circle cx="6" cy="6" r="6" fill="#fff"/><path d="M4.7 3.1 L7.5 6 L4.7 8.9" stroke="#3592d9" stroke-width="1.9" fill="none"/></svg>
<div class="t" style="left:787.3px;top:65.76px;font-size:18px;color:#111;font-weight:normal;">Хайлааст</div>
<div class="t" style="left:978.8px;top:69.22px;font-size:12.5px;color:#3a8dcf;font-weight:normal;letter-spacing:0.38px">Дэлгэрэнгүй мэдээлэл</div>
<svg class="abs" style="left:1121.4px;top:70.3px" width="10.4" height="10.4" viewBox="0 0 12 12"><circle cx="6" cy="6" r="6" fill="#2d86cf"/><path d="M4.7 3.1 L7.5 6 L4.7 8.9" stroke="#fff" stroke-width="2" fill="none"/></svg>
<div class="big"></div>
<div class="t" style="left:788.0px;width:125px;text-align:center;top:103.62px;font-size:34px;color:#fff;font-weight:normal;">445</div>
<div class="t" style="left:927.3px;top:96.58px;font-size:14.2px;color:#8a1d42;font-weight:normal;">Маш их бохирдолтой</div>
<div class="t" style="left:927.3px;top:116.54px;font-size:12px;color:#111;font-weight:normal;">2025-01-06 12:45</div>
<div class="t" style="left:927.3px;top:132.54px;font-size:12px;color:#111;font-weight:normal;">Температур: -12°C; Салхи:</div>
<div class="t" style="left:1087.6px;top:132.54px;font-size:12px;color:#111;font-weight:normal;">-м/с</div>
<svg class="abs" style="left:1117.5px;top:134.5px" width="8" height="12" viewBox="0 0 8 12"><path d="M4 1 L4 11.2" stroke="#111" stroke-width="1.7"/><path d="M1.2 4.2 L4 0.6 L6.8 4.2 Z" fill="#111"/></svg>
<div class="t" style="left:787.3px;top:159.89px;font-size:11px;color:#5b8fc4;font-weight:normal;">Элемент</div>
<div class="t" style="left:853.0px;top:159.89px;font-size:11px;color:#111;font-weight:normal;letter-spacing:0.75px">Үзүүлэлтүүд</div>
<div class="t" style="left:1032.2px;top:159.89px;font-size:11px;color:#e8a47c;font-weight:normal;">Одоо</div>
<div class="t" style="left:1075.4px;top:159.89px;font-size:11px;color:#d6304c;font-weight:normal;">Дээд</div>
<div class="t" style="left:1119.0px;top:159.89px;font-size:11px;color:#86c0d8;font-weight:normal;">Доод</div>
<div class="t" style="left:787.2px;top:176.64px;font-size:12px;color:#3b8bcb;font-weight:bold;">PM10</div>
<div class="t" style="left:787.4px;top:194.63px;font-size:10px;color:#4a8fca;font-weight:normal;">АЧИ</div>
<div class="t" style="left:1032.2px;top:176.49px;font-size:11px;color:#7b1a35;font-weight:normal;">403</div>
<div class="t" style="left:1075.4px;top:176.49px;font-size:11px;color:#7b1a35;font-weight:normal;">523</div>
<div class="t" style="left:1119.0px;top:176.49px;font-size:11px;color:#222;font-weight:normal;">68</div>
<svg class="abs" style="left:861px;top:186px" width="152" height="19" viewBox="0 0 152 19"><rect x="1.10" y="14.00" width="4.8" height="4.00" fill="#ef8a1d"/><rect x="7.37" y="15.20" width="4.8" height="2.80" fill="#e4822a"/><rect x="13.64" y="15.90" width="4.8" height="2.10" fill="#f6f32c"/><rect x="19.91" y="16.20" width="4.8" height="1.80" fill="#f7f46a"/><rect x="26.18" y="15.90" width="4.8" height="2.10" fill="#f6f32c"/><rect x="32.45" y="14.90" width="4.8" height="3.10" fill="#ef8a1d"/><rect x="38.72" y="14.00" width="4.8" height="4.00" fill="#ef8a1d"/><rect x="44.99" y="13.00" width="4.8" height="5.00" fill="#ef8a1d"/><rect x="51.26" y="12.10" width="4.8" height="5.90" fill="#ef8a1d"/><rect x="57.53" y="12.10" width="4.8" height="5.90" fill="#e81a1a"/><rect x="63.80" y="12.10" width="4.8" height="5.90" fill="#e81a1a"/><rect x="70.07" y="10.90" width="4.8" height="7.10" fill="#e81a1a"/><rect x="76.34" y="10.90" width="4.8" height="7.10" fill="#e81a1a"/><rect x="82.61" y="12.10" width="4.8" height="5.90" fill="#e81a1a"/><rect x="88.88" y="13.00" width="4.8" height="5.00" fill="#ef8a1d"/><rect x="95.15" y="14.00" width="4.8" height="4.00" fill="#ef8a1d"/><rect x="101.42" y="14.90" width="4.8" height="3.10" fill="#e4822a"/><rect x="107.69" y="14.90" width="4.8" height="3.10" fill="#e4822a"/><rect x="113.96" y="14.90" width="4.8" height="3.10" fill="#ef8a1d"/><rect x="120.23" y="14.00" width="4.8" height="4.00" fill="#ef8a1d"/><rect x="126.50" y="10.90" width="4.8" height="7.10" fill="#e81a1a"/><rect x="132.77" y="4.10" width="4.8" height="13.90" fill="#7a0b26"/><rect x="139.04" y="2.20" width="4.8" height="15.80" fill="#7a0b26"/><rect x="145.31" y="6.00" width="4.8" height="12.00" fill="#7a0b26"/><rect x="0" y="18" width="151" height="0.7" fill="#e2e2e2"/></svg>
<div class="sep" style="top:219px"></div>
<div class="t" style="left:787.2px;top:222.64px;font-size:12px;color:#3b8bcb;font-weight:bold;">PM2.5</div>
<div class="t" style="left:787.4px;top:240.63px;font-size:10px;color:#4a8fca;font-weight:normal;">АЧИ</div>
<div class="t" style="left:1032.2px;top:222.49px;font-size:11px;color:#7b1a35;font-weight:normal;">446</div>
<div class="t" style="left:1075.4px;top:222.49px;font-size:11px;color:#7b1a35;font-weight:normal;">491</div>
<div class="t" style="left:1119.0px;top:222.49px;font-size:11px;color:#e0882a;font-weight:normal;">130</div>
<svg class="abs" style="left:861px;top:232px" width="152" height="19" viewBox="0 0 152 19"><rect x="1.10" y="12.10" width="4.8" height="5.90" fill="#e81a1a"/><rect x="7.37" y="13.20" width="4.8" height="4.80" fill="#ef8a1d"/><rect x="13.64" y="14.20" width="4.8" height="3.80" fill="#ef8a1d"/><rect x="19.91" y="14.20" width="4.8" height="3.80" fill="#ef8a1d"/><rect x="26.18" y="14.90" width="4.8" height="3.10" fill="#ef8a1d"/><rect x="32.45" y="14.90" width="4.8" height="3.10" fill="#ef8a1d"/><rect x="38.72" y="13.20" width="4.8" height="4.80" fill="#ef8a1d"/><rect x="44.99" y="11.10" width="4.8" height="6.90" fill="#e81a1a"/><rect x="51.26" y="9.90" width="4.8" height="8.10" fill="#e81a1a"/><rect x="57.53" y="9.90" width="4.8" height="8.10" fill="#e81a1a"/><rect x="63.80" y="9.00" width="4.8" height="9.00" fill="#e81a1a"/><rect x="70.07" y="9.00" width="4.8" height="9.00" fill="#e81a1a"/><rect x="76.34" y="9.00" width="4.8" height="9.00" fill="#8e44ad"/><rect x="82.61" y="9.90" width="4.8" height="8.10" fill="#e81a1a"/><rect x="88.88" y="11.10" width="4.8" height="6.90" fill="#e81a1a"/><rect x="95.15" y="13.20" width="4.8" height="4.80" fill="#ef8a1d"/><rect x="101.42" y="14.20" width="4.8" height="3.80" fill="#ef8a1d"/><rect x="107.69" y="14.20" width="4.8" height="3.80" fill="#ef8a1d"/><rect x="113.96" y="13.20" width="4.8" height="4.80" fill="#ef8a1d"/><rect x="120.23" y="12.10" width="4.8" height="5.90" fill="#e81a1a"/><rect x="126.50" y="9.00" width="4.8" height="9.00" fill="#8e44ad"/><rect x="132.77" y="4.00" width="4.8" height="14.00" fill="#7a0b26"/><rect x="139.04" y="3.20" width="4.8" height="14.80" fill="#7a0b26"/><rect x="145.31" y="4.00" width="4.8" height="14.00" fill="#7a0b26"/><rect x="0" y="18" width="151" height="0.7" fill="#e2e2e2"/></svg>
<div class="sep" style="top:265px"></div>
<div class="t" style="left:787.2px;top:268.64px;font-size:12px;color:#3b8bcb;font-weight:bold;">CO</div>
<div class="t" style="left:787.4px;top:286.64px;font-size:10px;color:#4a8fca;font-weight:normal;">АЧИ</div>
<div class="t" style="left:1032.2px;top:268.49px;font-size:11px;color:#222;font-weight:normal;">56</div>
<div class="t" style="left:1075.4px;top:268.49px;font-size:11px;color:#222;font-weight:normal;">58</div>
<div class="t" style="left:1119.0px;top:268.49px;font-size:11px;color:#4cc632;font-weight:normal;">20</div>
<svg class="abs" style="left:861px;top:278px" width="152" height="19" viewBox="0 0 152 19"><rect x="1.10" y="10.90" width="4.8" height="7.10" fill="#4bd11c"/><rect x="7.37" y="11.90" width="4.8" height="6.10" fill="#4bd11c"/><rect x="13.64" y="13.10" width="4.8" height="4.90" fill="#4bd11c"/><rect x="19.91" y="13.10" width="4.8" height="4.90" fill="#4bd11c"/><rect x="26.18" y="14.00" width="4.8" height="4.00" fill="#4bd11c"/><rect x="32.45" y="14.00" width="4.8" height="4.00" fill="#4bd11c"/><rect x="38.72" y="14.00" width="4.8" height="4.00" fill="#4bd11c"/><rect x="44.99" y="14.00" width="4.8" height="4.00" fill="#4bd11c"/><rect x="51.26" y="13.10" width="4.8" height="4.90" fill="#4bd11c"/><rect x="57.53" y="11.90" width="4.8" height="6.10" fill="#4bd11c"/><rect x="63.80" y="10.90" width="4.8" height="7.10" fill="#4bd11c"/><rect x="70.07" y="10.10" width="4.8" height="7.90" fill="#4bd11c"/><rect x="76.34" y="9.10" width="4.8" height="8.90" fill="#4bd11c"/><rect x="82.61" y="8.10" width="4.8" height="9.90" fill="#4bd11c"/><rect x="88.88" y="8.10" width="4.8" height="9.90" fill="#4bd11c"/><rect x="95.15" y="7.30" width="4.8" height="10.70" fill="#4bd11c"/><rect x="101.42" y="7.30" width="4.8" height="10.70" fill="#4bd11c"/><rect x="107.69" y="7.30" width="4.8" height="10.70" fill="#4bd11c"/><rect x="113.96" y="6.30" width="4.8" height="11.70" fill="#4bd11c"/><rect x="120.23" y="6.30" width="4.8" height="11.70" fill="#f6f32c"/><rect x="126.50" y="6.30" width="4.8" height="11.70" fill="#f6f32c"/><rect x="132.77" y="5.10" width="4.8" height="12.90" fill="#f6f32c"/><rect x="139.04" y="5.10" width="4.8" height="12.90" fill="#f6f32c"/><rect x="145.31" y="5.10" width="4.8" height="12.90" fill="#f6f32c"/><rect x="0" y="18" width="151" height="0.7" fill="#e2e2e2"/></svg>
<div class="sep" style="top:311px"></div>
<div class="t" style="left:787.2px;top:314.64px;font-size:12px;color:#3b8bcb;font-weight:bold;">SO2</div>
<div class="t" style="left:787.4px;top:332.64px;font-size:10px;color:#4a8fca;font-weight:normal;">АЧИ</div>
<div class="t" style="left:1032.2px;top:314.49px;font-size:11px;color:#222;font-weight:normal;">77</div>
<div class="t" style="left:1075.4px;top:314.49px;font-size:11px;color:#e0882a;font-weight:normal;">146</div>
<div class="t" style="left:1119.0px;top:314.49px;font-size:11px;color:#4cc632;font-weight:normal;">42</div>
<svg class="abs" style="left:861px;top:324px" width="152" height="19" viewBox="0 0 152 19"><rect x="1.10" y="14.00" width="4.8" height="4.00" fill="#4bd11c"/><rect x="7.37" y="14.00" width="4.8" height="4.00" fill="#4bd11c"/><rect x="13.64" y="15.00" width="4.8" height="3.00" fill="#4bd11c"/><rect x="19.91" y="15.00" width="4.8" height="3.00" fill="#4bd11c"/><rect x="26.18" y="14.00" width="4.8" height="4.00" fill="#4bd11c"/><rect x="32.45" y="14.00" width="4.8" height="4.00" fill="#4bd11c"/><rect x="38.72" y="14.00" width="4.8" height="4.00" fill="#4bd11c"/><rect x="44.99" y="13.00" width="4.8" height="5.00" fill="#f6f32c"/><rect x="51.26" y="13.00" width="4.8" height="5.00" fill="#f6f32c"/><rect x="57.53" y="12.00" width="4.8" height="6.00" fill="#f6f32c"/><rect x="63.80" y="10.20" width="4.8" height="7.80" fill="#f6f32c"/><rect x="70.07" y="10.20" width="4.8" height="7.80" fill="#f6f32c"/><rect x="76.34" y="10.20" width="4.8" height="7.80" fill="#f6f32c"/><rect x="82.61" y="12.00" width="4.8" height="6.00" fill="#f6f32c"/><rect x="88.88" y="12.00" width="4.8" height="6.00" fill="#f6f32c"/><rect x="95.15" y="12.00" width="4.8" height="6.00" fill="#f6f32c"/><rect x="101.42" y="11.20" width="4.8" height="6.80" fill="#f6f32c"/><rect x="107.69" y="12.00" width="4.8" height="6.00" fill="#f6f32c"/><rect x="113.96" y="12.00" width="4.8" height="6.00" fill="#f6f32c"/><rect x="120.23" y="11.20" width="4.8" height="6.80" fill="#f6f32c"/><rect x="126.50" y="9.10" width="4.8" height="8.90" fill="#ef8a1d"/><rect x="132.77" y="4.10" width="4.8" height="13.90" fill="#ef8a1d"/><rect x="139.04" y="8.10" width="4.8" height="9.90" fill="#ef8a1d"/><rect x="145.31" y="11.20" width="4.8" height="6.80" fill="#f6f32c"/><rect x="0" y="18" width="151" height="0.7" fill="#e2e2e2"/></svg>
<div class="sep" style="top:357px"></div>
<div class="t" style="left:787.2px;top:360.64px;font-size:12px;color:#3b8bcb;font-weight:bold;">NO2</div>
<div class="t" style="left:787.4px;top:378.64px;font-size:10px;color:#4a8fca;font-weight:normal;">АЧИ</div>
<div class="t" style="left:1032.2px;top:360.49px;font-size:11px;color:#4cc632;font-weight:normal;">26</div>
<div class="t" style="left:1075.4px;top:360.49px;font-size:11px;color:#4cc632;font-weight:normal;">32</div>
<div class="t" style="left:1119.0px;top:360.49px;font-size:11px;color:#4cc632;font-weight:normal;">23</div>
<svg class="abs" style="left:861px;top:370px" width="152" height="19" viewBox="0 0 152 19"><rect x="1.10" y="8.10" width="4.8" height="9.90" fill="#4bd11c"/><rect x="7.37" y="8.10" width="4.8" height="9.90" fill="#4bd11c"/><rect x="13.64" y="8.10" width="4.8" height="9.90" fill="#4bd11c"/><rect x="19.91" y="7.10" width="4.8" height="10.90" fill="#4bd11c"/><rect x="26.18" y="5.00" width="4.8" height="13.00" fill="#4bd11c"/><rect x="32.45" y="5.00" width="4.8" height="13.00" fill="#4bd11c"/><rect x="38.72" y="4.00" width="4.8" height="14.00" fill="#4bd11c"/><rect x="44.99" y="4.00" width="4.8" height="14.00" fill="#4bd11c"/><rect x="51.26" y="4.00" width="4.8" height="14.00" fill="#4bd11c"/><rect x="57.53" y="4.00" width="4.8" height="14.00" fill="#4bd11c"/><rect x="63.80" y="4.00" width="4.8" height="14.00" fill="#4bd11c"/><rect x="70.07" y="5.00" width="4.8" height="13.00" fill="#4bd11c"/><rect x="76.34" y="5.00" width="4.8" height="13.00" fill="#4bd11c"/><rect x="82.61" y="6.00" width="4.8" height="12.00" fill="#4bd11c"/><rect x="88.88" y="7.10" width="4.8" height="10.90" fill="#4bd11c"/><rect x="95.15" y="7.10" width="4.8" height="10.90" fill="#4bd11c"/><rect x="101.42" y="7.10" width="4.8" height="10.90" fill="#4bd11c"/><rect x="107.69" y="7.10" width="4.8" height="10.90" fill="#4bd11c"/><rect x="113.96" y="7.10" width="4.8" height="10.90" fill="#4bd11c"/><rect x="120.23" y="7.10" width="4.8" height="10.90" fill="#4bd11c"/><rect x="126.50" y="5.00" width="4.8" height="13.00" fill="#4bd11c"/><rect x="132.77" y="3.10" width="4.8" height="14.90" fill="#4bd11c"/><rect x="139.04" y="4.00" width="4.8" height="14.00" fill="#4bd11c"/><rect x="145.31" y="6.00" width="4.8" height="12.00" fill="#4bd11c"/><rect x="0" y="18" width="151" height="0.7" fill="#e2e2e2"/></svg>
<div class="sep" style="top:403px"></div>
<div class="card" style="left:-6.8px;top:491px"><div class="chd" style="background:#f20000"></div><div class="cbt"></div></div>
<div class="t" style="left:-6.8px;width:137.6px;text-align:center;top:493.60px;font-size:13px;color:#fff;font-weight:normal;white-space:nowrap;overflow:hidden">Монгол газар</div>
<div class="t" style="left:-6.8px;width:137.6px;text-align:center;top:516.03px;font-size:23px;color:#e00012;font-weight:bold;">237</div>
<div class="t" style="left:-6.8px;width:137.6px;text-align:center;top:547.29px;font-size:11px;color:#111;font-weight:bold;">Бохирдолтой</div>
<div class="t" style="left:-6.8px;width:137.6px;text-align:center;top:564.98px;font-size:9px;color:#8a8a8a;font-weight:normal;">2025-01-06 13:15</div>
<div class="card" style="left:139.3px;top:491px"><div class="chd" style="background:#f5820a"></div><div class="cbt"></div></div>
<div class="t" style="left:139.3px;width:137.6px;text-align:center;top:493.60px;font-size:13px;color:#fff;font-weight:normal;white-space:nowrap;overflow:hidden">Ургах наран</div>
<div class="t" style="left:139.3px;width:137.6px;text-align:center;top:516.03px;font-size:23px;color:#f08422;font-weight:bold;">175</div>
<div class="t" style="left:139.3px;width:137.6px;text-align:center;top:547.29px;font-size:11px;color:#111;font-weight:bold;">Бага бохирдолтой</div>
<div class="t" style="left:139.3px;width:137.6px;text-align:center;top:564.98px;font-size:9px;color:#8a8a8a;font-weight:normal;">2025-01-06 12:45</div>
<div class="card" style="left:285.5px;top:491px"><div class="chd" style="background:#9343a3"></div><div class="cbt"></div></div>
<div class="t" style="left:285.5px;width:137.6px;text-align:center;top:493.60px;font-size:13px;color:#fff;font-weight:normal;white-space:nowrap;overflow:hidden">Баянхошуу</div>
<div class="t" style="left:285.5px;width:137.6px;text-align:center;top:516.03px;font-size:23px;color:#8f3fa0;font-weight:bold;">373</div>
<div class="t" style="left:285.5px;width:137.6px;text-align:center;top:547.29px;font-size:11px;color:#111;font-weight:bold;">Их бохирдолтой</div>
<div class="t" style="left:285.5px;width:137.6px;text-align:center;top:564.98px;font-size:9px;color:#8a8a8a;font-weight:normal;">2025-01-06 13:00</div>
<div class="card" style="left:431.7px;top:491px"><div class="chd" style="background:#7d0022"></div><div class="cbt"></div></div>
<div class="t" style="left:431.7px;width:137.6px;text-align:center;top:493.60px;font-size:13px;color:#fff;font-weight:normal;white-space:nowrap;overflow:hidden">1-р хороолол</div>
<div class="t" style="left:431.7px;width:137.6px;text-align:center;top:516.03px;font-size:23px;color:#7d0022;font-weight:bold;">485</div>
<div class="t" style="left:431.7px;width:137.6px;text-align:center;top:547.29px;font-size:11px;color:#111;font-weight:bold;">Маш их бохирдолтой</div>
<div class="t" style="left:431.7px;width:137.6px;text-align:center;top:564.98px;font-size:9px;color:#8a8a8a;font-weight:normal;">2025-01-06 12:45</div>
<div class="card" style="left:578.1px;top:491px"><div class="chd" style="background:#9343a3"></div><div class="cbt"></div></div>
<div class="t" style="left:578.1px;width:137.6px;text-align:center;top:493.60px;font-size:13px;color:#fff;font-weight:normal;white-space:nowrap;overflow:hidden">Дамбадаржаа</div>
<div class="t" style="left:578.1px;width:137.6px;text-align:center;top:516.03px;font-size:23px;color:#8f3fa0;font-weight:bold;">301</div>
<div class="t" style="left:578.1px;width:137.6px;text-align:center;top:547.29px;font-size:11px;color:#111;font-weight:bold;">Их бохирдолтой</div>
<div class="t" style="left:578.1px;width:137.6px;text-align:center;top:564.98px;font-size:9px;color:#8a8a8a;font-weight:normal;">2025-01-06 13:00</div>
<div class="card" style="left:724.5px;top:491px"><div class="chd" style="background:#7d0022"></div><div class="cbt"></div></div>
<div class="t" style="left:724.5px;width:137.6px;text-align:center;top:493.60px;font-size:13px;color:#fff;font-weight:normal;white-space:nowrap;overflow:hidden">Хайлааст</div>
<div class="t" style="left:724.5px;width:137.6px;text-align:center;top:516.03px;font-size:23px;color:#7d0022;font-weight:bold;">445</div>
<div class="t" style="left:724.5px;width:137.6px;text-align:center;top:547.29px;font-size:11px;color:#111;font-weight:bold;">Маш их бохирдолтой</div>
<div class="t" style="left:724.5px;width:137.6px;text-align:center;top:564.98px;font-size:9px;color:#8a8a8a;font-weight:normal;">2025-01-06 12:45</div>
<div class="card" style="left:876.2px;top:491px"><div class="chd" style="background:#f5820a"></div><div class="cbt"></div></div>
<div class="t" style="left:876.2px;width:137.6px;text-align:center;top:493.60px;font-size:13px;color:#fff;font-weight:normal;white-space:nowrap;overflow:hidden">5 буудал</div>
<div class="t" style="left:876.2px;width:137.6px;text-align:center;top:516.03px;font-size:23px;color:#f08422;font-weight:bold;">139</div>
<div class="t" style="left:876.2px;width:137.6px;text-align:center;top:547.29px;font-size:11px;color:#111;font-weight:bold;">Бага бохирдолтой</div>
<div class="t" style="left:876.2px;width:137.6px;text-align:center;top:564.98px;font-size:9px;color:#8a8a8a;font-weight:normal;">2025-01-06 12:45</div>
<div class="card" style="left:1022.4px;top:491px"><div class="chd" style="background:#f5820a"></div><div class="cbt"></div></div>
<div class="t" style="left:1022.4px;width:137.6px;text-align:center;top:495.12px;font-size:11.2px;color:#fff;font-weight:normal;white-space:nowrap;overflow:hidden">Богд хааны ордон музей</div>
<div class="t" style="left:1022.4px;width:137.6px;text-align:center;top:516.03px;font-size:23px;color:#f08422;font-weight:bold;">149</div>
<div class="t" style="left:1022.4px;width:137.6px;text-align:center;top:547.29px;font-size:11px;color:#111;font-weight:bold;">Бага бохирдолтой</div>
<div class="t" style="left:1022.4px;width:137.6px;text-align:center;top:564.98px;font-size:9px;color:#8a8a8a;font-weight:normal;">2025-01-06 12:45</div>
<div class="card" style="left:-6.8px;top:593px"><div class="chd" style="background:#f20000"></div><div class="cbt"></div></div>
<div class="t" style="left:-6.8px;width:137.6px;text-align:center;top:595.60px;font-size:13px;color:#fff;font-weight:normal;white-space:nowrap;overflow:hidden">Шархад</div>
<div class="t" style="left:-6.8px;width:137.6px;text-align:center;top:618.03px;font-size:23px;color:#e00012;font-weight:bold;">276</div>
<div class="t" style="left:-6.8px;width:137.6px;text-align:center;top:649.29px;font-size:11px;color:#111;font-weight:bold;">Бохирдолтой</div>
<div class="t" style="left:-6.8px;width:137.6px;text-align:center;top:666.98px;font-size:9px;color:#8a8a8a;font-weight:normal;">2025-01-06 12:45</div>
<div class="card" style="left:139.3px;top:593px"><div class="chd" style="background:#f5820a"></div><div class="cbt"></div></div>
<div class="t" style="left:139.3px;width:137.6px;text-align:center;top:595.60px;font-size:13px;color:#fff;font-weight:normal;white-space:nowrap;overflow:hidden">Налайх</div>
<div class="t" style="left:139.3px;width:137.6px;text-align:center;top:618.03px;font-size:23px;color:#f08422;font-weight:bold;">158</div>
<div class="t" style="left:139.3px;width:137.6px;text-align:center;top:649.29px;font-size:11px;color:#111;font-weight:bold;">Бага бохирдолтой</div>
<div class="t" style="left:139.3px;width:137.6px;text-align:center;top:666.98px;font-size:9px;color:#8a8a8a;font-weight:normal;">2025-01-06 12:45</div>
<div class="card" style="left:285.5px;top:593px"><div class="chd" style="background:#a9a9a9"></div><div class="cbt"></div></div>
<div class="t" style="left:285.5px;width:137.6px;text-align:center;top:595.60px;font-size:13px;color:#fff;font-weight:normal;white-space:nowrap;overflow:hidden">Эрдэнэт 2-р цэцэрлэг</div>
<div class="t" style="left:285.5px;width:137.6px;text-align:center;top:618.03px;font-size:23px;color:#b4b4b4;font-weight:bold;">-</div>
<div class="t" style="left:285.5px;width:137.6px;text-align:center;top:649.29px;font-size:11px;color:#111;font-weight:bold;">-</div>
<div class="t" style="left:285.5px;width:137.6px;text-align:center;top:666.98px;font-size:9px;color:#8a8a8a;font-weight:normal;">2024-12-09 03:00</div>
<div class="card" style="left:431.7px;top:593px"><div class="chd" style="background:#ffff00"></div><div class="cbt"></div></div>
<div class="t" style="left:431.7px;width:137.6px;text-align:center;top:595.60px;font-size:13px;color:#111;font-weight:normal;white-space:nowrap;overflow:hidden">Эрдэнэт Хаядлын сан</div>
<div class="t" style="left:431.7px;width:137.6px;text-align:center;top:618.03px;font-size:23px;color:#111;font-weight:bold;">54</div>
<div class="t" style="left:431.7px;width:137.6px;text-align:center;top:649.29px;font-size:11px;color:#111;font-weight:bold;">Хэвийн</div>
<div class="t" style="left:431.7px;width:137.6px;text-align:center;top:666.98px;font-size:9px;color:#8a8a8a;font-weight:normal;">2025-01-04 10:00</div>
<div class="card" style="left:578.1px;top:593px"><div class="chd" style="background:#f20000"></div><div class="cbt"></div></div>
<div class="t" style="left:578.1px;width:137.6px;text-align:center;top:597.29px;font-size:11px;color:#fff;font-weight:normal;white-space:nowrap;overflow:hidden">Яармаг</div>
<div class="t" style="left:578.1px;width:137.6px;text-align:center;top:618.03px;font-size:23px;color:#e00012;font-weight:bold;">212</div>
<div class="t" style="left:578.1px;width:137.6px;text-align:center;top:649.29px;font-size:11px;color:#111;font-weight:bold;">Бохирдолтой</div>
<div class="t" style="left:578.1px;width:137.6px;text-align:center;top:666.98px;font-size:9px;color:#8a8a8a;font-weight:normal;">2025-01-06 13:00</div>
</body></html>
